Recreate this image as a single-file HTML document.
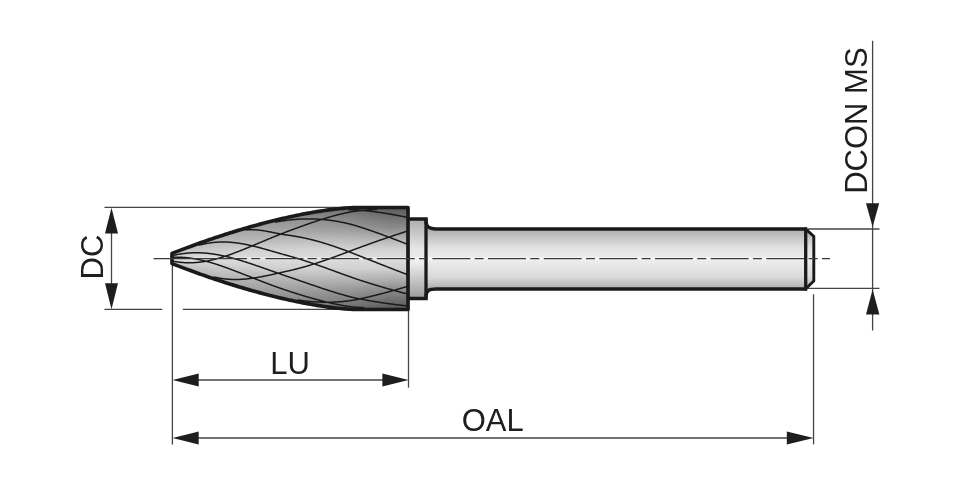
<!DOCTYPE html>
<html><head><meta charset="utf-8">
<style>
html,body{margin:0;padding:0;background:#fff;width:960px;height:485px;overflow:hidden}
svg{display:block;will-change:transform}
text{font-family:"Liberation Sans",sans-serif;fill:#1e1e1e}
</style></head><body>
<svg width="960" height="485" viewBox="0 0 960 485">
<defs>
<linearGradient id="gh" x1="0" y1="207.5" x2="0" y2="309.5" gradientUnits="userSpaceOnUse">
<stop offset="0" stop-color="#5a5a5a"/>
<stop offset="0.2" stop-color="#888"/>
<stop offset="0.5" stop-color="#dcdcdc"/>
<stop offset="0.8" stop-color="#8a8a8a"/>
<stop offset="1" stop-color="#555"/>
</linearGradient>
<linearGradient id="gs" x1="0" y1="229" x2="0" y2="289" gradientUnits="userSpaceOnUse">
<stop offset="0" stop-color="#acacac"/>
<stop offset="0.3" stop-color="#e0e0e0"/>
<stop offset="0.5" stop-color="#eeeeee"/>
<stop offset="0.8" stop-color="#dadada"/>
<stop offset="1" stop-color="#acacac"/>
</linearGradient>
<linearGradient id="gn" x1="0" y1="219" x2="0" y2="298" gradientUnits="userSpaceOnUse">
<stop offset="0" stop-color="#acacac"/>
<stop offset="0.38" stop-color="#e6e6e6"/>
<stop offset="0.55" stop-color="#eeeeee"/>
<stop offset="1" stop-color="#9c9c9c"/>
</linearGradient>
<linearGradient id="s0" x1="0" y1="0" x2="0" y2="1"><stop offset="0" stop-color="#c7c7c7"/><stop offset="0.1" stop-color="#cbcbcb"/><stop offset="0.2" stop-color="#cecece"/><stop offset="0.3" stop-color="#d3d3d3"/><stop offset="0.4" stop-color="#d7d7d7"/><stop offset="0.5" stop-color="#d9d9d9"/><stop offset="0.6" stop-color="#d7d7d7"/><stop offset="0.7" stop-color="#d3d3d3"/><stop offset="0.8" stop-color="#cecece"/><stop offset="0.9" stop-color="#cacaca"/><stop offset="1" stop-color="#c7c7c7"/></linearGradient><linearGradient id="s1" x1="0" y1="0" x2="0" y2="1"><stop offset="0" stop-color="#c5c5c5"/><stop offset="0.1" stop-color="#c9c9c9"/><stop offset="0.2" stop-color="#cdcdcd"/><stop offset="0.3" stop-color="#d2d2d2"/><stop offset="0.4" stop-color="#d7d7d7"/><stop offset="0.5" stop-color="#d9d9d9"/><stop offset="0.6" stop-color="#d7d7d7"/><stop offset="0.7" stop-color="#d2d2d2"/><stop offset="0.8" stop-color="#cdcdcd"/><stop offset="0.9" stop-color="#c9c9c9"/><stop offset="1" stop-color="#c5c5c5"/></linearGradient><linearGradient id="s2" x1="0" y1="0" x2="0" y2="1"><stop offset="0" stop-color="#c4c4c4"/><stop offset="0.1" stop-color="#c8c8c8"/><stop offset="0.2" stop-color="#cccccc"/><stop offset="0.3" stop-color="#d2d2d2"/><stop offset="0.4" stop-color="#d7d7d7"/><stop offset="0.5" stop-color="#d9d9d9"/><stop offset="0.6" stop-color="#d7d7d7"/><stop offset="0.7" stop-color="#d2d2d2"/><stop offset="0.8" stop-color="#cccccc"/><stop offset="0.9" stop-color="#c8c8c8"/><stop offset="1" stop-color="#c4c4c4"/></linearGradient><linearGradient id="s3" x1="0" y1="0" x2="0" y2="1"><stop offset="0" stop-color="#c2c2c2"/><stop offset="0.1" stop-color="#c7c7c7"/><stop offset="0.2" stop-color="#cbcbcb"/><stop offset="0.3" stop-color="#d1d1d1"/><stop offset="0.4" stop-color="#d7d7d7"/><stop offset="0.5" stop-color="#d9d9d9"/><stop offset="0.6" stop-color="#d7d7d7"/><stop offset="0.7" stop-color="#d1d1d1"/><stop offset="0.8" stop-color="#cbcbcb"/><stop offset="0.9" stop-color="#c7c7c7"/><stop offset="1" stop-color="#c2c2c2"/></linearGradient><linearGradient id="s4" x1="0" y1="0" x2="0" y2="1"><stop offset="0" stop-color="#c1c1c1"/><stop offset="0.1" stop-color="#c6c6c6"/><stop offset="0.2" stop-color="#cacaca"/><stop offset="0.3" stop-color="#d1d1d1"/><stop offset="0.4" stop-color="#d7d7d7"/><stop offset="0.5" stop-color="#d9d9d9"/><stop offset="0.6" stop-color="#d7d7d7"/><stop offset="0.7" stop-color="#d1d1d1"/><stop offset="0.8" stop-color="#cbcbcb"/><stop offset="0.9" stop-color="#c5c5c5"/><stop offset="1" stop-color="#c1c1c1"/></linearGradient><linearGradient id="s5" x1="0" y1="0" x2="0" y2="1"><stop offset="0" stop-color="#bfbfbf"/><stop offset="0.1" stop-color="#c5c5c5"/><stop offset="0.2" stop-color="#c9c9c9"/><stop offset="0.3" stop-color="#d0d0d0"/><stop offset="0.4" stop-color="#d6d6d6"/><stop offset="0.5" stop-color="#d9d9d9"/><stop offset="0.6" stop-color="#d6d6d6"/><stop offset="0.7" stop-color="#d0d0d0"/><stop offset="0.8" stop-color="#cacaca"/><stop offset="0.9" stop-color="#c4c4c4"/><stop offset="1" stop-color="#bfbfbf"/></linearGradient><linearGradient id="s6" x1="0" y1="0" x2="0" y2="1"><stop offset="0" stop-color="#bebebe"/><stop offset="0.1" stop-color="#c3c3c3"/><stop offset="0.2" stop-color="#c8c8c8"/><stop offset="0.3" stop-color="#d0d0d0"/><stop offset="0.4" stop-color="#d6d6d6"/><stop offset="0.5" stop-color="#d9d9d9"/><stop offset="0.6" stop-color="#d6d6d6"/><stop offset="0.7" stop-color="#d0d0d0"/><stop offset="0.8" stop-color="#c9c9c9"/><stop offset="0.9" stop-color="#c3c3c3"/><stop offset="1" stop-color="#bebebe"/></linearGradient><linearGradient id="s7" x1="0" y1="0" x2="0" y2="1"><stop offset="0" stop-color="#bcbcbc"/><stop offset="0.1" stop-color="#c2c2c2"/><stop offset="0.2" stop-color="#c7c7c7"/><stop offset="0.3" stop-color="#cfcfcf"/><stop offset="0.4" stop-color="#d6d6d6"/><stop offset="0.5" stop-color="#d9d9d9"/><stop offset="0.6" stop-color="#d6d6d6"/><stop offset="0.7" stop-color="#cfcfcf"/><stop offset="0.8" stop-color="#c8c8c8"/><stop offset="0.9" stop-color="#c2c2c2"/><stop offset="1" stop-color="#bcbcbc"/></linearGradient><linearGradient id="s8" x1="0" y1="0" x2="0" y2="1"><stop offset="0" stop-color="#bbbbbb"/><stop offset="0.1" stop-color="#c1c1c1"/><stop offset="0.2" stop-color="#c7c7c7"/><stop offset="0.3" stop-color="#cfcfcf"/><stop offset="0.4" stop-color="#d6d6d6"/><stop offset="0.5" stop-color="#d9d9d9"/><stop offset="0.6" stop-color="#d6d6d6"/><stop offset="0.7" stop-color="#cfcfcf"/><stop offset="0.8" stop-color="#c7c7c7"/><stop offset="0.9" stop-color="#c1c1c1"/><stop offset="1" stop-color="#bbbbbb"/></linearGradient><linearGradient id="s9" x1="0" y1="0" x2="0" y2="1"><stop offset="0" stop-color="#b9b9b9"/><stop offset="0.1" stop-color="#c0c0c0"/><stop offset="0.2" stop-color="#c6c6c6"/><stop offset="0.3" stop-color="#cecece"/><stop offset="0.4" stop-color="#d6d6d6"/><stop offset="0.5" stop-color="#d9d9d9"/><stop offset="0.6" stop-color="#d6d6d6"/><stop offset="0.7" stop-color="#cecece"/><stop offset="0.8" stop-color="#c6c6c6"/><stop offset="0.9" stop-color="#bfbfbf"/><stop offset="1" stop-color="#b9b9b9"/></linearGradient><linearGradient id="s10" x1="0" y1="0" x2="0" y2="1"><stop offset="0" stop-color="#b7b7b7"/><stop offset="0.1" stop-color="#bfbfbf"/><stop offset="0.2" stop-color="#c5c5c5"/><stop offset="0.3" stop-color="#cecece"/><stop offset="0.4" stop-color="#d6d6d6"/><stop offset="0.5" stop-color="#dadada"/><stop offset="0.6" stop-color="#d6d6d6"/><stop offset="0.7" stop-color="#cecece"/><stop offset="0.8" stop-color="#c5c5c5"/><stop offset="0.9" stop-color="#bebebe"/><stop offset="1" stop-color="#b7b7b7"/></linearGradient><linearGradient id="s11" x1="0" y1="0" x2="0" y2="1"><stop offset="0" stop-color="#b6b6b6"/><stop offset="0.1" stop-color="#bdbdbd"/><stop offset="0.2" stop-color="#c4c4c4"/><stop offset="0.3" stop-color="#cdcdcd"/><stop offset="0.4" stop-color="#d6d6d6"/><stop offset="0.5" stop-color="#dadada"/><stop offset="0.6" stop-color="#d6d6d6"/><stop offset="0.7" stop-color="#cdcdcd"/><stop offset="0.8" stop-color="#c4c4c4"/><stop offset="0.9" stop-color="#bdbdbd"/><stop offset="1" stop-color="#b6b6b6"/></linearGradient><linearGradient id="s12" x1="0" y1="0" x2="0" y2="1"><stop offset="0" stop-color="#b4b4b4"/><stop offset="0.1" stop-color="#bcbcbc"/><stop offset="0.2" stop-color="#c3c3c3"/><stop offset="0.3" stop-color="#cdcdcd"/><stop offset="0.4" stop-color="#d6d6d6"/><stop offset="0.5" stop-color="#dadada"/><stop offset="0.6" stop-color="#d6d6d6"/><stop offset="0.7" stop-color="#cdcdcd"/><stop offset="0.8" stop-color="#c3c3c3"/><stop offset="0.9" stop-color="#bcbcbc"/><stop offset="1" stop-color="#b4b4b4"/></linearGradient><linearGradient id="s13" x1="0" y1="0" x2="0" y2="1"><stop offset="0" stop-color="#b3b3b3"/><stop offset="0.1" stop-color="#bbbbbb"/><stop offset="0.2" stop-color="#c2c2c2"/><stop offset="0.3" stop-color="#cccccc"/><stop offset="0.4" stop-color="#d6d6d6"/><stop offset="0.5" stop-color="#dadada"/><stop offset="0.6" stop-color="#d6d6d6"/><stop offset="0.7" stop-color="#cccccc"/><stop offset="0.8" stop-color="#c3c3c3"/><stop offset="0.9" stop-color="#bababa"/><stop offset="1" stop-color="#b3b3b3"/></linearGradient><linearGradient id="s14" x1="0" y1="0" x2="0" y2="1"><stop offset="0" stop-color="#b1b1b1"/><stop offset="0.1" stop-color="#bababa"/><stop offset="0.2" stop-color="#c1c1c1"/><stop offset="0.3" stop-color="#cccccc"/><stop offset="0.4" stop-color="#d6d6d6"/><stop offset="0.5" stop-color="#dadada"/><stop offset="0.6" stop-color="#d6d6d6"/><stop offset="0.7" stop-color="#cccccc"/><stop offset="0.8" stop-color="#c2c2c2"/><stop offset="0.9" stop-color="#b9b9b9"/><stop offset="1" stop-color="#b1b1b1"/></linearGradient><linearGradient id="s15" x1="0" y1="0" x2="0" y2="1"><stop offset="0" stop-color="#b0b0b0"/><stop offset="0.1" stop-color="#b9b9b9"/><stop offset="0.2" stop-color="#c0c0c0"/><stop offset="0.3" stop-color="#cbcbcb"/><stop offset="0.4" stop-color="#d5d5d5"/><stop offset="0.5" stop-color="#dadada"/><stop offset="0.6" stop-color="#d5d5d5"/><stop offset="0.7" stop-color="#cbcbcb"/><stop offset="0.8" stop-color="#c1c1c1"/><stop offset="0.9" stop-color="#b8b8b8"/><stop offset="1" stop-color="#b0b0b0"/></linearGradient><linearGradient id="s16" x1="0" y1="0" x2="0" y2="1"><stop offset="0" stop-color="#aeaeae"/><stop offset="0.1" stop-color="#b7b7b7"/><stop offset="0.2" stop-color="#bfbfbf"/><stop offset="0.3" stop-color="#cbcbcb"/><stop offset="0.4" stop-color="#d5d5d5"/><stop offset="0.5" stop-color="#dadada"/><stop offset="0.6" stop-color="#d5d5d5"/><stop offset="0.7" stop-color="#cbcbcb"/><stop offset="0.8" stop-color="#c0c0c0"/><stop offset="0.9" stop-color="#b7b7b7"/><stop offset="1" stop-color="#aeaeae"/></linearGradient><linearGradient id="s17" x1="0" y1="0" x2="0" y2="1"><stop offset="0" stop-color="#adadad"/><stop offset="0.1" stop-color="#b6b6b6"/><stop offset="0.2" stop-color="#bebebe"/><stop offset="0.3" stop-color="#cacaca"/><stop offset="0.4" stop-color="#d5d5d5"/><stop offset="0.5" stop-color="#dadada"/><stop offset="0.6" stop-color="#d5d5d5"/><stop offset="0.7" stop-color="#cacaca"/><stop offset="0.8" stop-color="#bfbfbf"/><stop offset="0.9" stop-color="#b6b6b6"/><stop offset="1" stop-color="#adadad"/></linearGradient><linearGradient id="s18" x1="0" y1="0" x2="0" y2="1"><stop offset="0" stop-color="#ababab"/><stop offset="0.1" stop-color="#b5b5b5"/><stop offset="0.2" stop-color="#bdbdbd"/><stop offset="0.3" stop-color="#cacaca"/><stop offset="0.4" stop-color="#d5d5d5"/><stop offset="0.5" stop-color="#dadada"/><stop offset="0.6" stop-color="#d5d5d5"/><stop offset="0.7" stop-color="#cacaca"/><stop offset="0.8" stop-color="#bebebe"/><stop offset="0.9" stop-color="#b4b4b4"/><stop offset="1" stop-color="#ababab"/></linearGradient><linearGradient id="s19" x1="0" y1="0" x2="0" y2="1"><stop offset="0" stop-color="#aaaaaa"/><stop offset="0.1" stop-color="#b4b4b4"/><stop offset="0.2" stop-color="#bcbcbc"/><stop offset="0.3" stop-color="#cacaca"/><stop offset="0.4" stop-color="#d5d5d5"/><stop offset="0.5" stop-color="#dadada"/><stop offset="0.6" stop-color="#d5d5d5"/><stop offset="0.7" stop-color="#cacaca"/><stop offset="0.8" stop-color="#bdbdbd"/><stop offset="0.9" stop-color="#b3b3b3"/><stop offset="1" stop-color="#aaaaaa"/></linearGradient><linearGradient id="s20" x1="0" y1="0" x2="0" y2="1"><stop offset="0" stop-color="#a8a8a8"/><stop offset="0.1" stop-color="#b3b3b3"/><stop offset="0.2" stop-color="#bcbcbc"/><stop offset="0.3" stop-color="#c9c9c9"/><stop offset="0.4" stop-color="#d5d5d5"/><stop offset="0.5" stop-color="#dadada"/><stop offset="0.6" stop-color="#d5d5d5"/><stop offset="0.7" stop-color="#c9c9c9"/><stop offset="0.8" stop-color="#bcbcbc"/><stop offset="0.9" stop-color="#b2b2b2"/><stop offset="1" stop-color="#a8a8a8"/></linearGradient><linearGradient id="s21" x1="0" y1="0" x2="0" y2="1"><stop offset="0" stop-color="#a7a7a7"/><stop offset="0.1" stop-color="#b1b1b1"/><stop offset="0.2" stop-color="#bbbbbb"/><stop offset="0.3" stop-color="#c9c9c9"/><stop offset="0.4" stop-color="#d5d5d5"/><stop offset="0.5" stop-color="#dadada"/><stop offset="0.6" stop-color="#d5d5d5"/><stop offset="0.7" stop-color="#c9c9c9"/><stop offset="0.8" stop-color="#bbbbbb"/><stop offset="0.9" stop-color="#b1b1b1"/><stop offset="1" stop-color="#a7a7a7"/></linearGradient><linearGradient id="s22" x1="0" y1="0" x2="0" y2="1"><stop offset="0" stop-color="#a5a5a5"/><stop offset="0.1" stop-color="#b0b0b0"/><stop offset="0.2" stop-color="#bababa"/><stop offset="0.3" stop-color="#c8c8c8"/><stop offset="0.4" stop-color="#d5d5d5"/><stop offset="0.5" stop-color="#dadada"/><stop offset="0.6" stop-color="#d5d5d5"/><stop offset="0.7" stop-color="#c8c8c8"/><stop offset="0.8" stop-color="#bbbbbb"/><stop offset="0.9" stop-color="#afafaf"/><stop offset="1" stop-color="#a5a5a5"/></linearGradient><linearGradient id="s23" x1="0" y1="0" x2="0" y2="1"><stop offset="0" stop-color="#a4a4a4"/><stop offset="0.1" stop-color="#afafaf"/><stop offset="0.2" stop-color="#b9b9b9"/><stop offset="0.3" stop-color="#c8c8c8"/><stop offset="0.4" stop-color="#d5d5d5"/><stop offset="0.5" stop-color="#dadada"/><stop offset="0.6" stop-color="#d5d5d5"/><stop offset="0.7" stop-color="#c8c8c8"/><stop offset="0.8" stop-color="#bababa"/><stop offset="0.9" stop-color="#aeaeae"/><stop offset="1" stop-color="#a4a4a4"/></linearGradient><linearGradient id="s24" x1="0" y1="0" x2="0" y2="1"><stop offset="0" stop-color="#a2a2a2"/><stop offset="0.1" stop-color="#aeaeae"/><stop offset="0.2" stop-color="#b8b8b8"/><stop offset="0.3" stop-color="#c7c7c7"/><stop offset="0.4" stop-color="#d5d5d5"/><stop offset="0.5" stop-color="#dbdbdb"/><stop offset="0.6" stop-color="#d5d5d5"/><stop offset="0.7" stop-color="#c7c7c7"/><stop offset="0.8" stop-color="#b9b9b9"/><stop offset="0.9" stop-color="#adadad"/><stop offset="1" stop-color="#a2a2a2"/></linearGradient><linearGradient id="s25" x1="0" y1="0" x2="0" y2="1"><stop offset="0" stop-color="#a0a0a0"/><stop offset="0.1" stop-color="#adadad"/><stop offset="0.2" stop-color="#b7b7b7"/><stop offset="0.3" stop-color="#c7c7c7"/><stop offset="0.4" stop-color="#d5d5d5"/><stop offset="0.5" stop-color="#dbdbdb"/><stop offset="0.6" stop-color="#d5d5d5"/><stop offset="0.7" stop-color="#c7c7c7"/><stop offset="0.8" stop-color="#b8b8b8"/><stop offset="0.9" stop-color="#acacac"/><stop offset="1" stop-color="#a0a0a0"/></linearGradient><linearGradient id="s26" x1="0" y1="0" x2="0" y2="1"><stop offset="0" stop-color="#9f9f9f"/><stop offset="0.1" stop-color="#ababab"/><stop offset="0.2" stop-color="#b6b6b6"/><stop offset="0.3" stop-color="#c6c6c6"/><stop offset="0.4" stop-color="#d4d4d4"/><stop offset="0.5" stop-color="#dbdbdb"/><stop offset="0.6" stop-color="#d4d4d4"/><stop offset="0.7" stop-color="#c6c6c6"/><stop offset="0.8" stop-color="#b7b7b7"/><stop offset="0.9" stop-color="#ababab"/><stop offset="1" stop-color="#9f9f9f"/></linearGradient><linearGradient id="s27" x1="0" y1="0" x2="0" y2="1"><stop offset="0" stop-color="#9d9d9d"/><stop offset="0.1" stop-color="#aaaaaa"/><stop offset="0.2" stop-color="#b5b5b5"/><stop offset="0.3" stop-color="#c6c6c6"/><stop offset="0.4" stop-color="#d4d4d4"/><stop offset="0.5" stop-color="#dbdbdb"/><stop offset="0.6" stop-color="#d4d4d4"/><stop offset="0.7" stop-color="#c6c6c6"/><stop offset="0.8" stop-color="#b6b6b6"/><stop offset="0.9" stop-color="#a9a9a9"/><stop offset="1" stop-color="#9d9d9d"/></linearGradient><linearGradient id="s28" x1="0" y1="0" x2="0" y2="1"><stop offset="0" stop-color="#9c9c9c"/><stop offset="0.1" stop-color="#a9a9a9"/><stop offset="0.2" stop-color="#b4b4b4"/><stop offset="0.3" stop-color="#c5c5c5"/><stop offset="0.4" stop-color="#d4d4d4"/><stop offset="0.5" stop-color="#dbdbdb"/><stop offset="0.6" stop-color="#d4d4d4"/><stop offset="0.7" stop-color="#c5c5c5"/><stop offset="0.8" stop-color="#b5b5b5"/><stop offset="0.9" stop-color="#a8a8a8"/><stop offset="1" stop-color="#9c9c9c"/></linearGradient><linearGradient id="s29" x1="0" y1="0" x2="0" y2="1"><stop offset="0" stop-color="#9a9a9a"/><stop offset="0.1" stop-color="#a8a8a8"/><stop offset="0.2" stop-color="#b3b3b3"/><stop offset="0.3" stop-color="#c5c5c5"/><stop offset="0.4" stop-color="#d4d4d4"/><stop offset="0.5" stop-color="#dbdbdb"/><stop offset="0.6" stop-color="#d4d4d4"/><stop offset="0.7" stop-color="#c5c5c5"/><stop offset="0.8" stop-color="#b4b4b4"/><stop offset="0.9" stop-color="#a7a7a7"/><stop offset="1" stop-color="#9a9a9a"/></linearGradient><linearGradient id="s30" x1="0" y1="0" x2="0" y2="1"><stop offset="0" stop-color="#999999"/><stop offset="0.1" stop-color="#a7a7a7"/><stop offset="0.2" stop-color="#b2b2b2"/><stop offset="0.3" stop-color="#c4c4c4"/><stop offset="0.4" stop-color="#d4d4d4"/><stop offset="0.5" stop-color="#dbdbdb"/><stop offset="0.6" stop-color="#d4d4d4"/><stop offset="0.7" stop-color="#c4c4c4"/><stop offset="0.8" stop-color="#b3b3b3"/><stop offset="0.9" stop-color="#a6a6a6"/><stop offset="1" stop-color="#999999"/></linearGradient><linearGradient id="s31" x1="0" y1="0" x2="0" y2="1"><stop offset="0" stop-color="#979797"/><stop offset="0.1" stop-color="#a5a5a5"/><stop offset="0.2" stop-color="#b2b2b2"/><stop offset="0.3" stop-color="#c4c4c4"/><stop offset="0.4" stop-color="#d4d4d4"/><stop offset="0.5" stop-color="#dbdbdb"/><stop offset="0.6" stop-color="#d4d4d4"/><stop offset="0.7" stop-color="#c4c4c4"/><stop offset="0.8" stop-color="#b3b3b3"/><stop offset="0.9" stop-color="#a4a4a4"/><stop offset="1" stop-color="#979797"/></linearGradient><linearGradient id="s32" x1="0" y1="0" x2="0" y2="1"><stop offset="0" stop-color="#969696"/><stop offset="0.1" stop-color="#a4a4a4"/><stop offset="0.2" stop-color="#b1b1b1"/><stop offset="0.3" stop-color="#c3c3c3"/><stop offset="0.4" stop-color="#d4d4d4"/><stop offset="0.5" stop-color="#dbdbdb"/><stop offset="0.6" stop-color="#d4d4d4"/><stop offset="0.7" stop-color="#c3c3c3"/><stop offset="0.8" stop-color="#b2b2b2"/><stop offset="0.9" stop-color="#a3a3a3"/><stop offset="1" stop-color="#969696"/></linearGradient><linearGradient id="s33" x1="0" y1="0" x2="0" y2="1"><stop offset="0" stop-color="#949494"/><stop offset="0.1" stop-color="#a3a3a3"/><stop offset="0.2" stop-color="#b0b0b0"/><stop offset="0.3" stop-color="#c3c3c3"/><stop offset="0.4" stop-color="#d4d4d4"/><stop offset="0.5" stop-color="#dbdbdb"/><stop offset="0.6" stop-color="#d4d4d4"/><stop offset="0.7" stop-color="#c3c3c3"/><stop offset="0.8" stop-color="#b1b1b1"/><stop offset="0.9" stop-color="#a2a2a2"/><stop offset="1" stop-color="#949494"/></linearGradient><linearGradient id="s34" x1="0" y1="0" x2="0" y2="1"><stop offset="0" stop-color="#939393"/><stop offset="0.1" stop-color="#a2a2a2"/><stop offset="0.2" stop-color="#afafaf"/><stop offset="0.3" stop-color="#c2c2c2"/><stop offset="0.4" stop-color="#d4d4d4"/><stop offset="0.5" stop-color="#dbdbdb"/><stop offset="0.6" stop-color="#d4d4d4"/><stop offset="0.7" stop-color="#c2c2c2"/><stop offset="0.8" stop-color="#b0b0b0"/><stop offset="0.9" stop-color="#a1a1a1"/><stop offset="1" stop-color="#939393"/></linearGradient><linearGradient id="s35" x1="0" y1="0" x2="0" y2="1"><stop offset="0" stop-color="#919191"/><stop offset="0.1" stop-color="#a1a1a1"/><stop offset="0.2" stop-color="#aeaeae"/><stop offset="0.3" stop-color="#c2c2c2"/><stop offset="0.4" stop-color="#d4d4d4"/><stop offset="0.5" stop-color="#dbdbdb"/><stop offset="0.6" stop-color="#d4d4d4"/><stop offset="0.7" stop-color="#c2c2c2"/><stop offset="0.8" stop-color="#afafaf"/><stop offset="0.9" stop-color="#9f9f9f"/><stop offset="1" stop-color="#919191"/></linearGradient><linearGradient id="s36" x1="0" y1="0" x2="0" y2="1"><stop offset="0" stop-color="#909090"/><stop offset="0.1" stop-color="#9f9f9f"/><stop offset="0.2" stop-color="#adadad"/><stop offset="0.3" stop-color="#c1c1c1"/><stop offset="0.4" stop-color="#d3d3d3"/><stop offset="0.5" stop-color="#dbdbdb"/><stop offset="0.6" stop-color="#d3d3d3"/><stop offset="0.7" stop-color="#c1c1c1"/><stop offset="0.8" stop-color="#aeaeae"/><stop offset="0.9" stop-color="#9e9e9e"/><stop offset="1" stop-color="#909090"/></linearGradient><linearGradient id="s37" x1="0" y1="0" x2="0" y2="1"><stop offset="0" stop-color="#8e8e8e"/><stop offset="0.1" stop-color="#9e9e9e"/><stop offset="0.2" stop-color="#acacac"/><stop offset="0.3" stop-color="#c1c1c1"/><stop offset="0.4" stop-color="#d3d3d3"/><stop offset="0.5" stop-color="#dbdbdb"/><stop offset="0.6" stop-color="#d3d3d3"/><stop offset="0.7" stop-color="#c1c1c1"/><stop offset="0.8" stop-color="#adadad"/><stop offset="0.9" stop-color="#9d9d9d"/><stop offset="1" stop-color="#8e8e8e"/></linearGradient><linearGradient id="s38" x1="0" y1="0" x2="0" y2="1"><stop offset="0" stop-color="#8c8c8c"/><stop offset="0.1" stop-color="#9d9d9d"/><stop offset="0.2" stop-color="#ababab"/><stop offset="0.3" stop-color="#c0c0c0"/><stop offset="0.4" stop-color="#d3d3d3"/><stop offset="0.5" stop-color="#dcdcdc"/><stop offset="0.6" stop-color="#d3d3d3"/><stop offset="0.7" stop-color="#c0c0c0"/><stop offset="0.8" stop-color="#acacac"/><stop offset="0.9" stop-color="#9c9c9c"/><stop offset="1" stop-color="#8c8c8c"/></linearGradient><linearGradient id="s39" x1="0" y1="0" x2="0" y2="1"><stop offset="0" stop-color="#8b8b8b"/><stop offset="0.1" stop-color="#9c9c9c"/><stop offset="0.2" stop-color="#aaaaaa"/><stop offset="0.3" stop-color="#c0c0c0"/><stop offset="0.4" stop-color="#d3d3d3"/><stop offset="0.5" stop-color="#dcdcdc"/><stop offset="0.6" stop-color="#d3d3d3"/><stop offset="0.7" stop-color="#c0c0c0"/><stop offset="0.8" stop-color="#ababab"/><stop offset="0.9" stop-color="#9b9b9b"/><stop offset="1" stop-color="#8b8b8b"/></linearGradient><linearGradient id="s40" x1="0" y1="0" x2="0" y2="1"><stop offset="0" stop-color="#898989"/><stop offset="0.1" stop-color="#9b9b9b"/><stop offset="0.2" stop-color="#a9a9a9"/><stop offset="0.3" stop-color="#bfbfbf"/><stop offset="0.4" stop-color="#d3d3d3"/><stop offset="0.5" stop-color="#dcdcdc"/><stop offset="0.6" stop-color="#d3d3d3"/><stop offset="0.7" stop-color="#bfbfbf"/><stop offset="0.8" stop-color="#ababab"/><stop offset="0.9" stop-color="#999999"/><stop offset="1" stop-color="#898989"/></linearGradient><linearGradient id="s41" x1="0" y1="0" x2="0" y2="1"><stop offset="0" stop-color="#888888"/><stop offset="0.1" stop-color="#999999"/><stop offset="0.2" stop-color="#a8a8a8"/><stop offset="0.3" stop-color="#bfbfbf"/><stop offset="0.4" stop-color="#d3d3d3"/><stop offset="0.5" stop-color="#dcdcdc"/><stop offset="0.6" stop-color="#d3d3d3"/><stop offset="0.7" stop-color="#bfbfbf"/><stop offset="0.8" stop-color="#aaaaaa"/><stop offset="0.9" stop-color="#989898"/><stop offset="1" stop-color="#888888"/></linearGradient><linearGradient id="s42" x1="0" y1="0" x2="0" y2="1"><stop offset="0" stop-color="#868686"/><stop offset="0.1" stop-color="#989898"/><stop offset="0.2" stop-color="#a8a8a8"/><stop offset="0.3" stop-color="#bebebe"/><stop offset="0.4" stop-color="#d3d3d3"/><stop offset="0.5" stop-color="#dcdcdc"/><stop offset="0.6" stop-color="#d3d3d3"/><stop offset="0.7" stop-color="#bebebe"/><stop offset="0.8" stop-color="#a9a9a9"/><stop offset="0.9" stop-color="#979797"/><stop offset="1" stop-color="#868686"/></linearGradient><linearGradient id="s43" x1="0" y1="0" x2="0" y2="1"><stop offset="0" stop-color="#858585"/><stop offset="0.1" stop-color="#979797"/><stop offset="0.2" stop-color="#a7a7a7"/><stop offset="0.3" stop-color="#bebebe"/><stop offset="0.4" stop-color="#d3d3d3"/><stop offset="0.5" stop-color="#dcdcdc"/><stop offset="0.6" stop-color="#d3d3d3"/><stop offset="0.7" stop-color="#bebebe"/><stop offset="0.8" stop-color="#a8a8a8"/><stop offset="0.9" stop-color="#969696"/><stop offset="1" stop-color="#858585"/></linearGradient><linearGradient id="s44" x1="0" y1="0" x2="0" y2="1"><stop offset="0" stop-color="#838383"/><stop offset="0.1" stop-color="#969696"/><stop offset="0.2" stop-color="#a6a6a6"/><stop offset="0.3" stop-color="#bebebe"/><stop offset="0.4" stop-color="#d3d3d3"/><stop offset="0.5" stop-color="#dcdcdc"/><stop offset="0.6" stop-color="#d3d3d3"/><stop offset="0.7" stop-color="#bebebe"/><stop offset="0.8" stop-color="#a7a7a7"/><stop offset="0.9" stop-color="#949494"/><stop offset="1" stop-color="#838383"/></linearGradient><linearGradient id="s45" x1="0" y1="0" x2="0" y2="1"><stop offset="0" stop-color="#828282"/><stop offset="0.1" stop-color="#959595"/><stop offset="0.2" stop-color="#a5a5a5"/><stop offset="0.3" stop-color="#bdbdbd"/><stop offset="0.4" stop-color="#d3d3d3"/><stop offset="0.5" stop-color="#dcdcdc"/><stop offset="0.6" stop-color="#d3d3d3"/><stop offset="0.7" stop-color="#bdbdbd"/><stop offset="0.8" stop-color="#a6a6a6"/><stop offset="0.9" stop-color="#939393"/><stop offset="1" stop-color="#828282"/></linearGradient><linearGradient id="s46" x1="0" y1="0" x2="0" y2="1"><stop offset="0" stop-color="#808080"/><stop offset="0.1" stop-color="#939393"/><stop offset="0.2" stop-color="#a4a4a4"/><stop offset="0.3" stop-color="#bdbdbd"/><stop offset="0.4" stop-color="#d3d3d3"/><stop offset="0.5" stop-color="#dcdcdc"/><stop offset="0.6" stop-color="#d3d3d3"/><stop offset="0.7" stop-color="#bdbdbd"/><stop offset="0.8" stop-color="#a5a5a5"/><stop offset="0.9" stop-color="#929292"/><stop offset="1" stop-color="#808080"/></linearGradient><linearGradient id="s47" x1="0" y1="0" x2="0" y2="1"><stop offset="0" stop-color="#7f7f7f"/><stop offset="0.1" stop-color="#929292"/><stop offset="0.2" stop-color="#a3a3a3"/><stop offset="0.3" stop-color="#bcbcbc"/><stop offset="0.4" stop-color="#d2d2d2"/><stop offset="0.5" stop-color="#dcdcdc"/><stop offset="0.6" stop-color="#d2d2d2"/><stop offset="0.7" stop-color="#bcbcbc"/><stop offset="0.8" stop-color="#a4a4a4"/><stop offset="0.9" stop-color="#919191"/><stop offset="1" stop-color="#7f7f7f"/></linearGradient><linearGradient id="s48" x1="0" y1="0" x2="0" y2="1"><stop offset="0" stop-color="#7d7d7d"/><stop offset="0.1" stop-color="#919191"/><stop offset="0.2" stop-color="#a2a2a2"/><stop offset="0.3" stop-color="#bcbcbc"/><stop offset="0.4" stop-color="#d2d2d2"/><stop offset="0.5" stop-color="#dcdcdc"/><stop offset="0.6" stop-color="#d2d2d2"/><stop offset="0.7" stop-color="#bcbcbc"/><stop offset="0.8" stop-color="#a3a3a3"/><stop offset="0.9" stop-color="#909090"/><stop offset="1" stop-color="#7d7d7d"/></linearGradient><linearGradient id="s49" x1="0" y1="0" x2="0" y2="1"><stop offset="0" stop-color="#7c7c7c"/><stop offset="0.1" stop-color="#909090"/><stop offset="0.2" stop-color="#a1a1a1"/><stop offset="0.3" stop-color="#bbbbbb"/><stop offset="0.4" stop-color="#d2d2d2"/><stop offset="0.5" stop-color="#dcdcdc"/><stop offset="0.6" stop-color="#d2d2d2"/><stop offset="0.7" stop-color="#bbbbbb"/><stop offset="0.8" stop-color="#a3a3a3"/><stop offset="0.9" stop-color="#8e8e8e"/><stop offset="1" stop-color="#7c7c7c"/></linearGradient><linearGradient id="s50" x1="0" y1="0" x2="0" y2="1"><stop offset="0" stop-color="#7a7a7a"/><stop offset="0.1" stop-color="#8f8f8f"/><stop offset="0.2" stop-color="#a0a0a0"/><stop offset="0.3" stop-color="#bbbbbb"/><stop offset="0.4" stop-color="#d2d2d2"/><stop offset="0.5" stop-color="#dcdcdc"/><stop offset="0.6" stop-color="#d2d2d2"/><stop offset="0.7" stop-color="#bbbbbb"/><stop offset="0.8" stop-color="#a2a2a2"/><stop offset="0.9" stop-color="#8d8d8d"/><stop offset="1" stop-color="#7a7a7a"/></linearGradient><linearGradient id="s51" x1="0" y1="0" x2="0" y2="1"><stop offset="0" stop-color="#797979"/><stop offset="0.1" stop-color="#8d8d8d"/><stop offset="0.2" stop-color="#9f9f9f"/><stop offset="0.3" stop-color="#bababa"/><stop offset="0.4" stop-color="#d2d2d2"/><stop offset="0.5" stop-color="#dcdcdc"/><stop offset="0.6" stop-color="#d2d2d2"/><stop offset="0.7" stop-color="#bababa"/><stop offset="0.8" stop-color="#a1a1a1"/><stop offset="0.9" stop-color="#8c8c8c"/><stop offset="1" stop-color="#797979"/></linearGradient><linearGradient id="s52" x1="0" y1="0" x2="0" y2="1"><stop offset="0" stop-color="#777777"/><stop offset="0.1" stop-color="#8c8c8c"/><stop offset="0.2" stop-color="#9e9e9e"/><stop offset="0.3" stop-color="#bababa"/><stop offset="0.4" stop-color="#d2d2d2"/><stop offset="0.5" stop-color="#dddddd"/><stop offset="0.6" stop-color="#d2d2d2"/><stop offset="0.7" stop-color="#bababa"/><stop offset="0.8" stop-color="#a0a0a0"/><stop offset="0.9" stop-color="#8b8b8b"/><stop offset="1" stop-color="#777777"/></linearGradient><linearGradient id="s53" x1="0" y1="0" x2="0" y2="1"><stop offset="0" stop-color="#757575"/><stop offset="0.1" stop-color="#8b8b8b"/><stop offset="0.2" stop-color="#9d9d9d"/><stop offset="0.3" stop-color="#b9b9b9"/><stop offset="0.4" stop-color="#d2d2d2"/><stop offset="0.5" stop-color="#dddddd"/><stop offset="0.6" stop-color="#d2d2d2"/><stop offset="0.7" stop-color="#b9b9b9"/><stop offset="0.8" stop-color="#9f9f9f"/><stop offset="0.9" stop-color="#898989"/><stop offset="1" stop-color="#757575"/></linearGradient><linearGradient id="s54" x1="0" y1="0" x2="0" y2="1"><stop offset="0" stop-color="#747474"/><stop offset="0.1" stop-color="#8a8a8a"/><stop offset="0.2" stop-color="#9d9d9d"/><stop offset="0.3" stop-color="#b9b9b9"/><stop offset="0.4" stop-color="#d2d2d2"/><stop offset="0.5" stop-color="#dddddd"/><stop offset="0.6" stop-color="#d2d2d2"/><stop offset="0.7" stop-color="#b9b9b9"/><stop offset="0.8" stop-color="#9e9e9e"/><stop offset="0.9" stop-color="#888888"/><stop offset="1" stop-color="#747474"/></linearGradient><linearGradient id="s55" x1="0" y1="0" x2="0" y2="1"><stop offset="0" stop-color="#727272"/><stop offset="0.1" stop-color="#898989"/><stop offset="0.2" stop-color="#9c9c9c"/><stop offset="0.3" stop-color="#b8b8b8"/><stop offset="0.4" stop-color="#d2d2d2"/><stop offset="0.5" stop-color="#dddddd"/><stop offset="0.6" stop-color="#d2d2d2"/><stop offset="0.7" stop-color="#b8b8b8"/><stop offset="0.8" stop-color="#9d9d9d"/><stop offset="0.9" stop-color="#878787"/><stop offset="1" stop-color="#727272"/></linearGradient><linearGradient id="s56" x1="0" y1="0" x2="0" y2="1"><stop offset="0" stop-color="#717171"/><stop offset="0.1" stop-color="#878787"/><stop offset="0.2" stop-color="#9b9b9b"/><stop offset="0.3" stop-color="#b8b8b8"/><stop offset="0.4" stop-color="#d2d2d2"/><stop offset="0.5" stop-color="#dddddd"/><stop offset="0.6" stop-color="#d2d2d2"/><stop offset="0.7" stop-color="#b8b8b8"/><stop offset="0.8" stop-color="#9c9c9c"/><stop offset="0.9" stop-color="#868686"/><stop offset="1" stop-color="#717171"/></linearGradient><linearGradient id="s57" x1="0" y1="0" x2="0" y2="1"><stop offset="0" stop-color="#6f6f6f"/><stop offset="0.1" stop-color="#868686"/><stop offset="0.2" stop-color="#9a9a9a"/><stop offset="0.3" stop-color="#b7b7b7"/><stop offset="0.4" stop-color="#d1d1d1"/><stop offset="0.5" stop-color="#dddddd"/><stop offset="0.6" stop-color="#d1d1d1"/><stop offset="0.7" stop-color="#b7b7b7"/><stop offset="0.8" stop-color="#9b9b9b"/><stop offset="0.9" stop-color="#858585"/><stop offset="1" stop-color="#6f6f6f"/></linearGradient><linearGradient id="s58" x1="0" y1="0" x2="0" y2="1"><stop offset="0" stop-color="#6e6e6e"/><stop offset="0.1" stop-color="#858585"/><stop offset="0.2" stop-color="#999999"/><stop offset="0.3" stop-color="#b7b7b7"/><stop offset="0.4" stop-color="#d1d1d1"/><stop offset="0.5" stop-color="#dddddd"/><stop offset="0.6" stop-color="#d1d1d1"/><stop offset="0.7" stop-color="#b7b7b7"/><stop offset="0.8" stop-color="#9b9b9b"/><stop offset="0.9" stop-color="#838383"/><stop offset="1" stop-color="#6e6e6e"/></linearGradient><linearGradient id="s59" x1="0" y1="0" x2="0" y2="1"><stop offset="0" stop-color="#6c6c6c"/><stop offset="0.1" stop-color="#848484"/><stop offset="0.2" stop-color="#989898"/><stop offset="0.3" stop-color="#b6b6b6"/><stop offset="0.4" stop-color="#d1d1d1"/><stop offset="0.5" stop-color="#dddddd"/><stop offset="0.6" stop-color="#d1d1d1"/><stop offset="0.7" stop-color="#b6b6b6"/><stop offset="0.8" stop-color="#9a9a9a"/><stop offset="0.9" stop-color="#828282"/><stop offset="1" stop-color="#6c6c6c"/></linearGradient><linearGradient id="s60" x1="0" y1="0" x2="0" y2="1"><stop offset="0" stop-color="#6b6b6b"/><stop offset="0.1" stop-color="#838383"/><stop offset="0.2" stop-color="#979797"/><stop offset="0.3" stop-color="#b6b6b6"/><stop offset="0.4" stop-color="#d1d1d1"/><stop offset="0.5" stop-color="#dddddd"/><stop offset="0.6" stop-color="#d1d1d1"/><stop offset="0.7" stop-color="#b6b6b6"/><stop offset="0.8" stop-color="#999999"/><stop offset="0.9" stop-color="#818181"/><stop offset="1" stop-color="#6b6b6b"/></linearGradient><linearGradient id="s61" x1="0" y1="0" x2="0" y2="1"><stop offset="0" stop-color="#696969"/><stop offset="0.1" stop-color="#818181"/><stop offset="0.2" stop-color="#969696"/><stop offset="0.3" stop-color="#b5b5b5"/><stop offset="0.4" stop-color="#d1d1d1"/><stop offset="0.5" stop-color="#dddddd"/><stop offset="0.6" stop-color="#d1d1d1"/><stop offset="0.7" stop-color="#b5b5b5"/><stop offset="0.8" stop-color="#989898"/><stop offset="0.9" stop-color="#808080"/><stop offset="1" stop-color="#696969"/></linearGradient><linearGradient id="s62" x1="0" y1="0" x2="0" y2="1"><stop offset="0" stop-color="#686868"/><stop offset="0.1" stop-color="#808080"/><stop offset="0.2" stop-color="#959595"/><stop offset="0.3" stop-color="#b5b5b5"/><stop offset="0.4" stop-color="#d1d1d1"/><stop offset="0.5" stop-color="#dddddd"/><stop offset="0.6" stop-color="#d1d1d1"/><stop offset="0.7" stop-color="#b5b5b5"/><stop offset="0.8" stop-color="#979797"/><stop offset="0.9" stop-color="#7e7e7e"/><stop offset="1" stop-color="#686868"/></linearGradient><linearGradient id="s63" x1="0" y1="0" x2="0" y2="1"><stop offset="0" stop-color="#666666"/><stop offset="0.1" stop-color="#7f7f7f"/><stop offset="0.2" stop-color="#949494"/><stop offset="0.3" stop-color="#b4b4b4"/><stop offset="0.4" stop-color="#d1d1d1"/><stop offset="0.5" stop-color="#dddddd"/><stop offset="0.6" stop-color="#d1d1d1"/><stop offset="0.7" stop-color="#b4b4b4"/><stop offset="0.8" stop-color="#969696"/><stop offset="0.9" stop-color="#7d7d7d"/><stop offset="1" stop-color="#666666"/></linearGradient><linearGradient id="s64" x1="0" y1="0" x2="0" y2="1"><stop offset="0" stop-color="#656565"/><stop offset="0.1" stop-color="#7e7e7e"/><stop offset="0.2" stop-color="#939393"/><stop offset="0.3" stop-color="#b4b4b4"/><stop offset="0.4" stop-color="#d1d1d1"/><stop offset="0.5" stop-color="#dddddd"/><stop offset="0.6" stop-color="#d1d1d1"/><stop offset="0.7" stop-color="#b4b4b4"/><stop offset="0.8" stop-color="#959595"/><stop offset="0.9" stop-color="#7c7c7c"/><stop offset="1" stop-color="#656565"/></linearGradient><linearGradient id="s65" x1="0" y1="0" x2="0" y2="1"><stop offset="0" stop-color="#636363"/><stop offset="0.1" stop-color="#7d7d7d"/><stop offset="0.2" stop-color="#939393"/><stop offset="0.3" stop-color="#b3b3b3"/><stop offset="0.4" stop-color="#d1d1d1"/><stop offset="0.5" stop-color="#dddddd"/><stop offset="0.6" stop-color="#d1d1d1"/><stop offset="0.7" stop-color="#b3b3b3"/><stop offset="0.8" stop-color="#949494"/><stop offset="0.9" stop-color="#7b7b7b"/><stop offset="1" stop-color="#636363"/></linearGradient><linearGradient id="s66" x1="0" y1="0" x2="0" y2="1"><stop offset="0" stop-color="#616161"/><stop offset="0.1" stop-color="#7b7b7b"/><stop offset="0.2" stop-color="#929292"/><stop offset="0.3" stop-color="#b3b3b3"/><stop offset="0.4" stop-color="#d1d1d1"/><stop offset="0.5" stop-color="#dedede"/><stop offset="0.6" stop-color="#d1d1d1"/><stop offset="0.7" stop-color="#b3b3b3"/><stop offset="0.8" stop-color="#939393"/><stop offset="0.9" stop-color="#7a7a7a"/><stop offset="1" stop-color="#616161"/></linearGradient><linearGradient id="s67" x1="0" y1="0" x2="0" y2="1"><stop offset="0" stop-color="#606060"/><stop offset="0.1" stop-color="#7a7a7a"/><stop offset="0.2" stop-color="#919191"/><stop offset="0.3" stop-color="#b2b2b2"/><stop offset="0.4" stop-color="#d0d0d0"/><stop offset="0.5" stop-color="#dedede"/><stop offset="0.6" stop-color="#d0d0d0"/><stop offset="0.7" stop-color="#b2b2b2"/><stop offset="0.8" stop-color="#939393"/><stop offset="0.9" stop-color="#787878"/><stop offset="1" stop-color="#606060"/></linearGradient><linearGradient id="s68" x1="0" y1="0" x2="0" y2="1"><stop offset="0" stop-color="#5e5e5e"/><stop offset="0.1" stop-color="#797979"/><stop offset="0.2" stop-color="#909090"/><stop offset="0.3" stop-color="#b2b2b2"/><stop offset="0.4" stop-color="#d0d0d0"/><stop offset="0.5" stop-color="#dedede"/><stop offset="0.6" stop-color="#d0d0d0"/><stop offset="0.7" stop-color="#b2b2b2"/><stop offset="0.8" stop-color="#929292"/><stop offset="0.9" stop-color="#777777"/><stop offset="1" stop-color="#5e5e5e"/></linearGradient><linearGradient id="s69" x1="0" y1="0" x2="0" y2="1"><stop offset="0" stop-color="#5d5d5d"/><stop offset="0.1" stop-color="#787878"/><stop offset="0.2" stop-color="#8f8f8f"/><stop offset="0.3" stop-color="#b2b2b2"/><stop offset="0.4" stop-color="#d0d0d0"/><stop offset="0.5" stop-color="#dedede"/><stop offset="0.6" stop-color="#d0d0d0"/><stop offset="0.7" stop-color="#b2b2b2"/><stop offset="0.8" stop-color="#919191"/><stop offset="0.9" stop-color="#767676"/><stop offset="1" stop-color="#5d5d5d"/></linearGradient><linearGradient id="s70" x1="0" y1="0" x2="0" y2="1"><stop offset="0" stop-color="#5b5b5b"/><stop offset="0.1" stop-color="#777777"/><stop offset="0.2" stop-color="#8e8e8e"/><stop offset="0.3" stop-color="#b1b1b1"/><stop offset="0.4" stop-color="#d0d0d0"/><stop offset="0.5" stop-color="#dedede"/><stop offset="0.6" stop-color="#d0d0d0"/><stop offset="0.7" stop-color="#b1b1b1"/><stop offset="0.8" stop-color="#909090"/><stop offset="0.9" stop-color="#757575"/><stop offset="1" stop-color="#5b5b5b"/></linearGradient><linearGradient id="s71" x1="0" y1="0" x2="0" y2="1"><stop offset="0" stop-color="#5a5a5a"/><stop offset="0.1" stop-color="#757575"/><stop offset="0.2" stop-color="#8d8d8d"/><stop offset="0.3" stop-color="#b1b1b1"/><stop offset="0.4" stop-color="#d0d0d0"/><stop offset="0.5" stop-color="#dedede"/><stop offset="0.6" stop-color="#d0d0d0"/><stop offset="0.7" stop-color="#b1b1b1"/><stop offset="0.8" stop-color="#8f8f8f"/><stop offset="0.9" stop-color="#737373"/><stop offset="1" stop-color="#5a5a5a"/></linearGradient><linearGradient id="s72" x1="0" y1="0" x2="0" y2="1"><stop offset="0" stop-color="#585858"/><stop offset="0.1" stop-color="#747474"/><stop offset="0.2" stop-color="#8c8c8c"/><stop offset="0.3" stop-color="#b0b0b0"/><stop offset="0.4" stop-color="#d0d0d0"/><stop offset="0.5" stop-color="#dedede"/><stop offset="0.6" stop-color="#d0d0d0"/><stop offset="0.7" stop-color="#b0b0b0"/><stop offset="0.8" stop-color="#8e8e8e"/><stop offset="0.9" stop-color="#727272"/><stop offset="1" stop-color="#585858"/></linearGradient><linearGradient id="s73" x1="0" y1="0" x2="0" y2="1"><stop offset="0" stop-color="#585858"/><stop offset="0.1" stop-color="#747474"/><stop offset="0.2" stop-color="#8c8c8c"/><stop offset="0.3" stop-color="#b0b0b0"/><stop offset="0.4" stop-color="#d0d0d0"/><stop offset="0.5" stop-color="#dedede"/><stop offset="0.6" stop-color="#d0d0d0"/><stop offset="0.7" stop-color="#b0b0b0"/><stop offset="0.8" stop-color="#8e8e8e"/><stop offset="0.9" stop-color="#727272"/><stop offset="1" stop-color="#585858"/></linearGradient><linearGradient id="s74" x1="0" y1="0" x2="0" y2="1"><stop offset="0" stop-color="#585858"/><stop offset="0.1" stop-color="#747474"/><stop offset="0.2" stop-color="#8c8c8c"/><stop offset="0.3" stop-color="#b0b0b0"/><stop offset="0.4" stop-color="#d0d0d0"/><stop offset="0.5" stop-color="#dedede"/><stop offset="0.6" stop-color="#d0d0d0"/><stop offset="0.7" stop-color="#b0b0b0"/><stop offset="0.8" stop-color="#8e8e8e"/><stop offset="0.9" stop-color="#727272"/><stop offset="1" stop-color="#585858"/></linearGradient><linearGradient id="s75" x1="0" y1="0" x2="0" y2="1"><stop offset="0" stop-color="#585858"/><stop offset="0.1" stop-color="#747474"/><stop offset="0.2" stop-color="#8c8c8c"/><stop offset="0.3" stop-color="#b0b0b0"/><stop offset="0.4" stop-color="#d0d0d0"/><stop offset="0.5" stop-color="#dedede"/><stop offset="0.6" stop-color="#d0d0d0"/><stop offset="0.7" stop-color="#b0b0b0"/><stop offset="0.8" stop-color="#8e8e8e"/><stop offset="0.9" stop-color="#727272"/><stop offset="1" stop-color="#585858"/></linearGradient><linearGradient id="s76" x1="0" y1="0" x2="0" y2="1"><stop offset="0" stop-color="#585858"/><stop offset="0.1" stop-color="#747474"/><stop offset="0.2" stop-color="#8c8c8c"/><stop offset="0.3" stop-color="#b0b0b0"/><stop offset="0.4" stop-color="#d0d0d0"/><stop offset="0.5" stop-color="#dedede"/><stop offset="0.6" stop-color="#d0d0d0"/><stop offset="0.7" stop-color="#b0b0b0"/><stop offset="0.8" stop-color="#8e8e8e"/><stop offset="0.9" stop-color="#727272"/><stop offset="1" stop-color="#585858"/></linearGradient><linearGradient id="s77" x1="0" y1="0" x2="0" y2="1"><stop offset="0" stop-color="#585858"/><stop offset="0.1" stop-color="#747474"/><stop offset="0.2" stop-color="#8c8c8c"/><stop offset="0.3" stop-color="#b0b0b0"/><stop offset="0.4" stop-color="#d0d0d0"/><stop offset="0.5" stop-color="#dedede"/><stop offset="0.6" stop-color="#d0d0d0"/><stop offset="0.7" stop-color="#b0b0b0"/><stop offset="0.8" stop-color="#8e8e8e"/><stop offset="0.9" stop-color="#727272"/><stop offset="1" stop-color="#585858"/></linearGradient><linearGradient id="s78" x1="0" y1="0" x2="0" y2="1"><stop offset="0" stop-color="#585858"/><stop offset="0.1" stop-color="#747474"/><stop offset="0.2" stop-color="#8c8c8c"/><stop offset="0.3" stop-color="#b0b0b0"/><stop offset="0.4" stop-color="#d0d0d0"/><stop offset="0.5" stop-color="#dedede"/><stop offset="0.6" stop-color="#d0d0d0"/><stop offset="0.7" stop-color="#b0b0b0"/><stop offset="0.8" stop-color="#8e8e8e"/><stop offset="0.9" stop-color="#727272"/><stop offset="1" stop-color="#585858"/></linearGradient>
</defs>
<g stroke="#454545" stroke-width="1.3" fill="none">
<!-- DC ext lines -->
<line x1="104.5" y1="207.3" x2="400" y2="207.3"/>
<line x1="104.5" y1="309.4" x2="162.3" y2="309.4"/>
<line x1="182.8" y1="309.4" x2="400" y2="309.4"/>
<line x1="111.5" y1="215" x2="111.5" y2="300"/>
<!-- LU / OAL ext -->
<line x1="172.4" y1="262" x2="172.4" y2="444.6"/>
<line x1="408.5" y1="305" x2="408.5" y2="387.6"/>
<line x1="813.55" y1="294.2" x2="813.55" y2="444.4"/>
<line x1="190" y1="380" x2="395" y2="380"/>
<line x1="190" y1="438" x2="800" y2="438"/>
<!-- DCON ext -->
<line x1="808" y1="229" x2="879.5" y2="229"/>
<line x1="808" y1="288.3" x2="879.5" y2="288.3"/>
<line x1="872.6" y1="40.8" x2="872.6" y2="330.5"/>
</g>
<g fill="#1e1e1e" stroke="none">
<polygon points="111.5,207.8 105,233.4 118,233.4"/>
<polygon points="111.5,309.2 105,283.2 118,283.2"/>
<polygon points="872.6,227.1 866,203.2 879.2,203.2"/>
<polygon points="872.6,289.6 866,314.6 879.4,314.6"/>
<polygon points="172.6,380 198.7,373.4 198.7,386.6"/>
<polygon points="408.6,380 382.4,373.4 382.4,386.6"/>
<polygon points="172.6,438 198.7,431.4 198.7,444.6"/>
<polygon points="813.55,438 786.8,431.4 786.8,444.6"/>
</g>
<!-- shank -->
<path d="M424,221 C426,227 429,228.9 436,228.9 L806,228.9 L813.8,236.5 L813.8,281 L806,289 L436,289 C429,289 426,290.5 424,296.5 Z" fill="url(#gs)" stroke="none"/>
<!-- neck -->
<rect x="408" y="219" width="18" height="79.5" fill="url(#gn)"/>
<!-- head -->
<clipPath id="hc"><path d="M172,253.41 L173.98,252.64 L175.97,251.87 L177.95,251.11 L179.93,250.36 L181.92,249.61 L183.9,248.86 L185.88,248.12 L187.87,247.38 L189.85,246.65 L191.83,245.93 L193.82,245.21 L195.8,244.49 L197.78,243.78 L199.76,243.07 L201.75,242.37 L203.73,241.67 L205.71,240.98 L207.7,240.3 L209.68,239.61 L211.66,238.94 L213.65,238.27 L215.63,237.6 L217.61,236.94 L219.6,236.29 L221.58,235.64 L223.56,235 L225.55,234.36 L227.53,233.72 L229.51,233.1 L231.5,232.47 L233.48,231.86 L235.46,231.25 L237.45,230.64 L239.43,230.04 L241.41,229.45 L243.39,228.86 L245.38,228.28 L247.36,227.7 L249.34,227.13 L251.33,226.57 L253.31,226.01 L255.29,225.46 L257.28,224.91 L259.26,224.37 L261.24,223.84 L263.23,223.31 L265.21,222.79 L267.19,222.27 L269.18,221.77 L271.16,221.26 L273.14,220.77 L275.13,220.28 L277.11,219.8 L279.09,219.32 L281.08,218.85 L283.06,218.39 L285.04,217.94 L287.03,217.49 L289.01,217.05 L290.99,216.62 L292.97,216.19 L294.96,215.77 L296.94,215.36 L298.92,214.96 L300.91,214.56 L302.89,214.18 L304.87,213.8 L306.86,213.42 L308.84,213.06 L310.82,212.71 L312.81,212.36 L314.79,212.02 L316.77,211.69 L318.76,211.38 L320.74,211.07 L322.72,210.76 L324.71,210.47 L326.69,210.19 L328.67,209.92 L330.66,209.66 L332.64,209.41 L334.62,209.18 L336.61,208.95 L338.59,208.73 L340.57,208.53 L342.55,208.35 L344.54,208.17 L346.52,208.01 L348.5,207.87 L350.49,207.74 L352.47,207.64 L354.45,207.56 L356.44,207.51 L358.42,207.5 L360.4,207.5 L362.39,207.5 L364.37,207.5 L366.35,207.5 L368.34,207.5 L370.32,207.5 L372.3,207.5 L374.29,207.5 L376.27,207.5 L378.25,207.5 L380.24,207.5 L382.22,207.5 L384.2,207.5 L386.18,207.5 L388.17,207.5 L390.15,207.5 L392.13,207.5 L394.12,207.5 L396.1,207.5 L398.08,207.5 L400.07,207.5 L402.05,207.5 L404.03,207.5 L406.02,207.5 L408,207.5 L408,309.5 L406.02,309.5 L404.03,309.5 L402.05,309.5 L400.07,309.5 L398.08,309.5 L396.1,309.5 L394.12,309.5 L392.13,309.5 L390.15,309.5 L388.17,309.5 L386.18,309.5 L384.2,309.5 L382.22,309.5 L380.24,309.5 L378.25,309.5 L376.27,309.5 L374.29,309.5 L372.3,309.5 L370.32,309.5 L368.34,309.5 L366.35,309.5 L364.37,309.5 L362.39,309.5 L360.4,309.5 L358.42,309.5 L356.44,309.49 L354.45,309.44 L352.47,309.36 L350.49,309.26 L348.5,309.13 L346.52,308.99 L344.54,308.83 L342.55,308.65 L340.57,308.47 L338.59,308.27 L336.61,308.05 L334.62,307.82 L332.64,307.59 L330.66,307.34 L328.67,307.08 L326.69,306.81 L324.71,306.53 L322.72,306.24 L320.74,305.93 L318.76,305.62 L316.77,305.31 L314.79,304.98 L312.81,304.64 L310.82,304.29 L308.84,303.94 L306.86,303.58 L304.87,303.2 L302.89,302.82 L300.91,302.44 L298.92,302.04 L296.94,301.64 L294.96,301.23 L292.97,300.81 L290.99,300.38 L289.01,299.95 L287.03,299.51 L285.04,299.06 L283.06,298.61 L281.08,298.15 L279.09,297.68 L277.11,297.2 L275.13,296.72 L273.14,296.23 L271.16,295.74 L269.18,295.23 L267.19,294.73 L265.21,294.21 L263.23,293.69 L261.24,293.16 L259.26,292.63 L257.28,292.09 L255.29,291.54 L253.31,290.99 L251.33,290.43 L249.34,289.87 L247.36,289.3 L245.38,288.72 L243.39,288.14 L241.41,287.55 L239.43,286.96 L237.45,286.36 L235.46,285.75 L233.48,285.14 L231.5,284.53 L229.51,283.9 L227.53,283.28 L225.55,282.64 L223.56,282 L221.58,281.36 L219.6,280.71 L217.61,280.06 L215.63,279.4 L213.65,278.73 L211.66,278.06 L209.68,277.39 L207.7,276.7 L205.71,276.02 L203.73,275.33 L201.75,274.63 L199.76,273.93 L197.78,273.22 L195.8,272.51 L193.82,271.79 L191.83,271.07 L189.85,270.35 L187.87,269.62 L185.88,268.88 L183.9,268.14 L181.92,267.39 L179.93,266.64 L177.95,265.89 L175.97,265.13 L173.98,264.36 L172,263.59 Z"/></clipPath>
<g clip-path="url(#hc)" shape-rendering="crispEdges"><rect x="172" y="252.83" width="3" height="11.35" fill="url(#s0)"/><rect x="175" y="251.67" width="3" height="13.66" fill="url(#s1)"/><rect x="178" y="250.52" width="3" height="15.95" fill="url(#s2)"/><rect x="181" y="249.39" width="3" height="18.22" fill="url(#s3)"/><rect x="184" y="248.26" width="3" height="20.47" fill="url(#s4)"/><rect x="187" y="247.15" width="3" height="22.7" fill="url(#s5)"/><rect x="190" y="246.05" width="3" height="24.9" fill="url(#s6)"/><rect x="193" y="244.96" width="3" height="27.09" fill="url(#s7)"/><rect x="196" y="243.88" width="3" height="29.24" fill="url(#s8)"/><rect x="199" y="242.81" width="3" height="31.38" fill="url(#s9)"/><rect x="202" y="241.75" width="3" height="33.49" fill="url(#s10)"/><rect x="205" y="240.71" width="3" height="35.58" fill="url(#s11)"/><rect x="208" y="239.68" width="3" height="37.65" fill="url(#s12)"/><rect x="211" y="238.66" width="3" height="39.69" fill="url(#s13)"/><rect x="214" y="237.65" width="3" height="41.71" fill="url(#s14)"/><rect x="217" y="236.65" width="3" height="43.7" fill="url(#s15)"/><rect x="220" y="235.67" width="3" height="45.67" fill="url(#s16)"/><rect x="223" y="234.69" width="3" height="47.61" fill="url(#s17)"/><rect x="226" y="233.73" width="3" height="49.53" fill="url(#s18)"/><rect x="229" y="232.79" width="3" height="51.43" fill="url(#s19)"/><rect x="232" y="231.85" width="3" height="53.3" fill="url(#s20)"/><rect x="235" y="230.93" width="3" height="55.14" fill="url(#s21)"/><rect x="238" y="230.02" width="3" height="56.96" fill="url(#s22)"/><rect x="241" y="229.13" width="3" height="58.75" fill="url(#s23)"/><rect x="244" y="228.24" width="3" height="60.51" fill="url(#s24)"/><rect x="247" y="227.37" width="3" height="62.25" fill="url(#s25)"/><rect x="250" y="226.52" width="3" height="63.96" fill="url(#s26)"/><rect x="253" y="225.68" width="3" height="65.64" fill="url(#s27)"/><rect x="256" y="224.85" width="3" height="67.3" fill="url(#s28)"/><rect x="259" y="224.04" width="3" height="68.93" fill="url(#s29)"/><rect x="262" y="223.24" width="3" height="70.52" fill="url(#s30)"/><rect x="265" y="222.45" width="3" height="72.09" fill="url(#s31)"/><rect x="268" y="221.68" width="3" height="73.63" fill="url(#s32)"/><rect x="271" y="220.93" width="3" height="75.14" fill="url(#s33)"/><rect x="274" y="220.19" width="3" height="76.62" fill="url(#s34)"/><rect x="277" y="219.46" width="3" height="78.07" fill="url(#s35)"/><rect x="280" y="218.75" width="3" height="79.49" fill="url(#s36)"/><rect x="283" y="218.06" width="3" height="80.88" fill="url(#s37)"/><rect x="286" y="217.38" width="3" height="82.23" fill="url(#s38)"/><rect x="289" y="216.72" width="3" height="83.55" fill="url(#s39)"/><rect x="292" y="216.08" width="3" height="84.84" fill="url(#s40)"/><rect x="295" y="215.45" width="3" height="86.1" fill="url(#s41)"/><rect x="298" y="214.84" width="3" height="87.31" fill="url(#s42)"/><rect x="301" y="214.25" width="3" height="88.5" fill="url(#s43)"/><rect x="304" y="213.68" width="3" height="89.64" fill="url(#s44)"/><rect x="307" y="213.12" width="3" height="90.75" fill="url(#s45)"/><rect x="310" y="212.59" width="3" height="91.82" fill="url(#s46)"/><rect x="313" y="212.07" width="3" height="92.86" fill="url(#s47)"/><rect x="316" y="211.58" width="3" height="93.85" fill="url(#s48)"/><rect x="319" y="211.1" width="3" height="94.8" fill="url(#s49)"/><rect x="322" y="210.65" width="3" height="95.7" fill="url(#s50)"/><rect x="325" y="210.22" width="3" height="96.56" fill="url(#s51)"/><rect x="328" y="209.81" width="3" height="97.37" fill="url(#s52)"/><rect x="331" y="209.43" width="3" height="98.14" fill="url(#s53)"/><rect x="334" y="209.07" width="3" height="98.85" fill="url(#s54)"/><rect x="337" y="208.74" width="3" height="99.51" fill="url(#s55)"/><rect x="340" y="208.44" width="3" height="100.11" fill="url(#s56)"/><rect x="343" y="208.17" width="3" height="100.65" fill="url(#s57)"/><rect x="346" y="207.94" width="3" height="101.12" fill="url(#s58)"/><rect x="349" y="207.74" width="3" height="101.51" fill="url(#s59)"/><rect x="352" y="207.59" width="3" height="101.81" fill="url(#s60)"/><rect x="355" y="207.51" width="3" height="101.99" fill="url(#s61)"/><rect x="358" y="207.5" width="3" height="102" fill="url(#s62)"/><rect x="361" y="207.5" width="3" height="102" fill="url(#s63)"/><rect x="364" y="207.5" width="3" height="102" fill="url(#s64)"/><rect x="367" y="207.5" width="3" height="102" fill="url(#s65)"/><rect x="370" y="207.5" width="3" height="102" fill="url(#s66)"/><rect x="373" y="207.5" width="3" height="102" fill="url(#s67)"/><rect x="376" y="207.5" width="3" height="102" fill="url(#s68)"/><rect x="379" y="207.5" width="3" height="102" fill="url(#s69)"/><rect x="382" y="207.5" width="3" height="102" fill="url(#s70)"/><rect x="385" y="207.5" width="3" height="102" fill="url(#s71)"/><rect x="388" y="207.5" width="3" height="102" fill="url(#s72)"/><rect x="391" y="207.5" width="3" height="102" fill="url(#s73)"/><rect x="394" y="207.5" width="3" height="102" fill="url(#s74)"/><rect x="397" y="207.5" width="3" height="102" fill="url(#s75)"/><rect x="400" y="207.5" width="3" height="102" fill="url(#s76)"/><rect x="403" y="207.5" width="3" height="102" fill="url(#s77)"/><rect x="406" y="207.5" width="2" height="102" fill="url(#s78)"/></g>
<line x1="153.6" y1="258.6" x2="830" y2="258.6" stroke="#fff" stroke-opacity="0.35" stroke-width="3.2"/>
<path d="M348.48,209.69 L348.96,209.69 L349.43,209.69 L349.9,209.68 L350.37,209.69 L350.85,209.69 L351.32,209.69 L351.79,209.7 L352.26,209.7 L352.74,209.71 L353.21,209.73 L353.68,209.74 L354.15,209.75 L354.63,209.77 L355.1,209.79 L355.57,209.82 L356.04,209.84 L356.51,209.87 L356.99,209.9 L357.46,209.94 L357.93,209.98 L358.4,210.02 L358.88,210.06 L359.35,210.1 L359.82,210.14 L360.29,210.18 L360.77,210.23 L361.24,210.27 L361.71,210.31 L362.18,210.36 L362.65,210.4 L363.13,210.45 L363.6,210.49 L364.07,210.54 L364.54,210.59 L365.02,210.64 L365.49,210.69 L365.96,210.74 L366.43,210.79 L366.91,210.84 L367.38,210.89 L367.85,210.94 L368.32,210.99 L368.8,211.05 L369.27,211.1 L369.74,211.15 L370.21,211.21 L370.68,211.26 L371.16,211.32 L371.63,211.38 L372.1,211.44 L372.57,211.49 L373.05,211.55 L373.52,211.61 L373.99,211.67 L374.46,211.73 L374.94,211.79 L375.41,211.86 L375.88,211.92 L376.35,211.98 L376.83,212.05 L377.3,212.11 L377.77,212.18 L378.24,212.24 L378.71,212.31 L379.19,212.37 L379.66,212.44 L380.13,212.51 L380.6,212.58 L381.08,212.65 L381.55,212.72 L382.02,212.79 L382.49,212.86 L382.97,212.93 L383.44,213 L383.91,213.08 L384.38,213.15 L384.86,213.22 L385.33,213.3 L385.8,213.37 L386.27,213.45 L386.74,213.53 L387.22,213.6 L387.69,213.68 L388.16,213.76 L388.63,213.84 L389.11,213.92 L389.58,214 L390.05,214.08 L390.52,214.16 L391,214.24 L391.47,214.32 L391.94,214.41 L392.41,214.49 L392.88,214.57 L393.36,214.66 L393.83,214.74 L394.3,214.83 L394.77,214.91 L395.25,215 L395.72,215.09 L396.19,215.18 L396.66,215.27 L397.14,215.36 L397.61,215.45 L398.08,215.54 L398.55,215.63 L399.03,215.72 L399.5,215.81 L399.97,215.9 L400.44,216 L400.91,216.09 L401.39,216.18 L401.86,216.28 L402.33,216.37 L402.8,216.47 L403.28,216.57 L403.75,216.66 L404.22,216.76 L404.69,216.86 L405.17,216.96 L405.64,217.06 L406.11,217.16 L406.58,217.26 L407.06,217.36 L407.53,217.46 L408,217.56 M274.8,222.17 L275.27,222.08 L275.74,222 L276.22,221.91 L276.69,221.83 L277.16,221.75 L277.63,221.66 L278.11,221.58 L278.58,221.51 L279.05,221.43 L279.52,221.35 L279.99,221.28 L280.47,221.2 L280.94,221.13 L281.41,221.06 L281.88,220.99 L282.36,220.92 L282.83,220.85 L283.3,220.78 L283.77,220.71 L284.25,220.65 L284.72,220.58 L285.19,220.52 L285.66,220.46 L286.14,220.4 L286.61,220.34 L287.08,220.28 L287.55,220.22 L288.02,220.16 L288.5,220.11 L288.97,220.05 L289.44,220 L289.91,219.95 L290.39,219.89 L290.86,219.84 L291.33,219.8 L291.8,219.75 L292.28,219.7 L292.75,219.66 L293.22,219.61 L293.69,219.57 L294.16,219.53 L294.64,219.49 L295.11,219.45 L295.58,219.42 L296.05,219.38 L296.53,219.34 L297,219.31 L297.47,219.28 L297.94,219.25 L298.42,219.22 L298.89,219.19 L299.36,219.16 L299.83,219.14 L300.31,219.11 L300.78,219.09 L301.25,219.07 L301.72,219.05 L302.19,219.03 L302.67,219.01 L303.14,218.99 L303.61,218.98 L304.08,218.97 L304.56,218.95 L305.03,218.94 L305.5,218.93 L305.97,218.92 L306.45,218.92 L306.92,218.91 L307.39,218.91 L307.86,218.9 L308.34,218.9 L308.81,218.9 L309.28,218.9 L309.75,218.9 L310.22,218.91 L310.7,218.91 L311.17,218.92 L311.64,218.92 L312.11,218.93 L312.59,218.94 L313.06,218.96 L313.53,218.97 L314,218.98 L314.48,219 L314.95,219.01 L315.42,219.03 L315.89,219.05 L316.37,219.07 L316.84,219.1 L317.31,219.12 L317.78,219.15 L318.25,219.17 L318.73,219.2 L319.2,219.23 L319.67,219.26 L320.14,219.29 L320.62,219.33 L321.09,219.36 L321.56,219.4 L322.03,219.43 L322.51,219.47 L322.98,219.51 L323.45,219.55 L323.92,219.6 L324.39,219.64 L324.87,219.69 L325.34,219.73 L325.81,219.78 L326.28,219.83 L326.76,219.88 L327.23,219.94 L327.7,219.99 L328.17,220.05 L328.65,220.1 L329.12,220.16 L329.59,220.22 L330.06,220.28 L330.54,220.34 L331.01,220.41 L331.48,220.47 L331.95,220.54 L332.42,220.61 L332.9,220.67 L333.37,220.75 L333.84,220.82 L334.31,220.89 L334.79,220.96 L335.26,221.04 L335.73,221.12 L336.2,221.2 L336.68,221.28 L337.15,221.36 L337.62,221.44 L338.09,221.53 L338.57,221.61 L339.04,221.7 L339.51,221.79 L339.98,221.88 L340.45,221.97 L340.93,222.06 L341.4,222.15 L341.87,222.25 L342.34,222.35 L342.82,222.44 L343.29,222.54 L343.76,222.64 L344.23,222.75 L344.71,222.85 L345.18,222.95 L345.65,223.06 L346.12,223.17 L346.6,223.28 L347.07,223.39 L347.54,223.5 L348.01,223.61 L348.48,223.73 L348.96,223.84 L349.43,223.96 L349.9,224.08 L350.37,224.2 L350.85,224.32 L351.32,224.45 L351.79,224.57 L352.26,224.7 L352.74,224.83 L353.21,224.96 L353.68,225.09 L354.15,225.22 L354.63,225.35 L355.1,225.49 L355.57,225.63 L356.04,225.77 L356.51,225.91 L356.99,226.06 L357.46,226.2 L357.93,226.35 L358.4,226.5 L358.88,226.65 L359.35,226.8 L359.82,226.95 L360.29,227.11 L360.77,227.26 L361.24,227.41 L361.71,227.56 L362.18,227.72 L362.65,227.87 L363.13,228.03 L363.6,228.18 L364.07,228.34 L364.54,228.49 L365.02,228.65 L365.49,228.81 L365.96,228.96 L366.43,229.12 L366.91,229.28 L367.38,229.44 L367.85,229.6 L368.32,229.76 L368.8,229.92 L369.27,230.08 L369.74,230.24 L370.21,230.4 L370.68,230.56 L371.16,230.73 L371.63,230.89 L372.1,231.05 L372.57,231.22 L373.05,231.38 L373.52,231.54 L373.99,231.71 L374.46,231.87 L374.94,232.04 L375.41,232.21 L375.88,232.37 L376.35,232.54 L376.83,232.71 L377.3,232.88 L377.77,233.04 L378.24,233.21 L378.71,233.38 L379.19,233.55 L379.66,233.72 L380.13,233.89 L380.6,234.06 L381.08,234.23 L381.55,234.4 L382.02,234.57 L382.49,234.75 L382.97,234.92 L383.44,235.09 L383.91,235.26 L384.38,235.44 L384.86,235.61 L385.33,235.79 L385.8,235.96 L386.27,236.14 L386.74,236.31 L387.22,236.49 L387.69,236.66 L388.16,236.84 L388.63,237.02 L389.11,237.19 L389.58,237.37 L390.05,237.55 L390.52,237.73 L391,237.9 L391.47,238.08 L391.94,238.26 L392.41,238.44 L392.88,238.62 L393.36,238.8 L393.83,238.98 L394.3,239.16 L394.77,239.34 L395.25,239.52 L395.72,239.7 L396.19,239.88 L396.66,240.07 L397.14,240.25 L397.61,240.43 L398.08,240.61 L398.55,240.8 L399.03,240.98 L399.5,241.16 L399.97,241.35 L400.44,241.53 L400.91,241.72 L401.39,241.9 L401.86,242.09 L402.33,242.27 L402.8,242.46 L403.28,242.64 L403.75,242.83 L404.22,243.01 L404.69,243.2 L405.17,243.39 L405.64,243.57 L406.11,243.76 L406.58,243.95 L407.06,244.14 L407.53,244.32 L408,244.51 M245.51,230.08 L245.99,230.02 L246.46,229.96 L246.93,229.91 L247.4,229.87 L247.88,229.83 L248.35,229.79 L248.82,229.76 L249.29,229.74 L249.76,229.71 L250.24,229.7 L250.71,229.69 L251.18,229.68 L251.65,229.67 L252.13,229.67 L252.6,229.68 L253.07,229.69 L253.54,229.7 L254.02,229.72 L254.49,229.74 L254.96,229.76 L255.43,229.79 L255.91,229.82 L256.38,229.86 L256.85,229.89 L257.32,229.94 L257.79,229.98 L258.27,230.03 L258.74,230.08 L259.21,230.13 L259.68,230.19 L260.16,230.25 L260.63,230.31 L261.1,230.37 L261.57,230.44 L262.05,230.51 L262.52,230.58 L262.99,230.65 L263.46,230.72 L263.93,230.8 L264.41,230.88 L264.88,230.96 L265.35,231.04 L265.82,231.12 L266.3,231.21 L266.77,231.29 L267.24,231.38 L267.71,231.47 L268.19,231.56 L268.66,231.65 L269.13,231.74 L269.6,231.83 L270.08,231.92 L270.55,232.02 L271.02,232.11 L271.49,232.2 L271.96,232.3 L272.44,232.39 L272.91,232.49 L273.38,232.58 L273.85,232.68 L274.33,232.78 L274.8,232.87 L275.27,232.97 L275.74,233.06 L276.22,233.15 L276.69,233.25 L277.16,233.34 L277.63,233.43 L278.11,233.53 L278.58,233.62 L279.05,233.71 L279.52,233.8 L279.99,233.88 L280.47,233.97 L280.94,234.06 L281.41,234.14 L281.88,234.23 L282.36,234.31 L282.83,234.39 L283.3,234.47 L283.77,234.55 L284.25,234.63 L284.72,234.7 L285.19,234.78 L285.66,234.85 L286.14,234.92 L286.61,234.98 L287.08,235.05 L287.55,235.11 L288.02,235.18 L288.5,235.24 L288.97,235.3 L289.44,235.36 L289.91,235.43 L290.39,235.5 L290.86,235.56 L291.33,235.63 L291.8,235.7 L292.28,235.77 L292.75,235.85 L293.22,235.92 L293.69,236 L294.16,236.07 L294.64,236.15 L295.11,236.23 L295.58,236.31 L296.05,236.39 L296.53,236.47 L297,236.55 L297.47,236.64 L297.94,236.72 L298.42,236.81 L298.89,236.9 L299.36,236.99 L299.83,237.08 L300.31,237.17 L300.78,237.26 L301.25,237.35 L301.72,237.45 L302.19,237.54 L302.67,237.64 L303.14,237.74 L303.61,237.84 L304.08,237.94 L304.56,238.04 L305.03,238.14 L305.5,238.24 L305.97,238.35 L306.45,238.45 L306.92,238.56 L307.39,238.67 L307.86,238.78 L308.34,238.89 L308.81,239 L309.28,239.11 L309.75,239.22 L310.22,239.34 L310.7,239.45 L311.17,239.57 L311.64,239.69 L312.11,239.81 L312.59,239.93 L313.06,240.05 L313.53,240.17 L314,240.29 L314.48,240.41 L314.95,240.54 L315.42,240.66 L315.89,240.79 L316.37,240.92 L316.84,241.05 L317.31,241.18 L317.78,241.31 L318.25,241.44 L318.73,241.57 L319.2,241.7 L319.67,241.84 L320.14,241.97 L320.62,242.11 L321.09,242.25 L321.56,242.39 L322.03,242.52 L322.51,242.66 L322.98,242.81 L323.45,242.95 L323.92,243.09 L324.39,243.23 L324.87,243.38 L325.34,243.52 L325.81,243.67 L326.28,243.82 L326.76,243.96 L327.23,244.11 L327.7,244.26 L328.17,244.41 L328.65,244.57 L329.12,244.72 L329.59,244.87 L330.06,245.02 L330.54,245.18 L331.01,245.33 L331.48,245.49 L331.95,245.65 L332.42,245.81 L332.9,245.96 L333.37,246.12 L333.84,246.28 L334.31,246.44 L334.79,246.61 L335.26,246.77 L335.73,246.93 L336.2,247.1 L336.68,247.26 L337.15,247.43 L337.62,247.59 L338.09,247.76 L338.57,247.93 L339.04,248.09 L339.51,248.26 L339.98,248.43 L340.45,248.6 L340.93,248.77 L341.4,248.94 L341.87,249.12 L342.34,249.29 L342.82,249.46 L343.29,249.63 L343.76,249.81 L344.23,249.98 L344.71,250.16 L345.18,250.33 L345.65,250.51 L346.12,250.69 L346.6,250.87 L347.07,251.04 L347.54,251.22 L348.01,251.4 L348.48,251.58 L348.96,251.76 L349.43,251.94 L349.9,252.12 L350.37,252.3 L350.85,252.49 L351.32,252.67 L351.79,252.85 L352.26,253.03 L352.74,253.22 L353.21,253.4 L353.68,253.59 L354.15,253.77 L354.63,253.96 L355.1,254.14 L355.57,254.33 L356.04,254.51 L356.51,254.7 L356.99,254.88 L357.46,255.07 L357.93,255.26 L358.4,255.45 L358.88,255.63 L359.35,255.82 L359.82,256.01 L360.29,256.2 L360.77,256.38 L361.24,256.57 L361.71,256.76 L362.18,256.94 L362.65,257.13 L363.13,257.32 L363.6,257.51 L364.07,257.69 L364.54,257.88 L365.02,258.07 L365.49,258.26 L365.96,258.44 L366.43,258.63 L366.91,258.82 L367.38,259.01 L367.85,259.2 L368.32,259.38 L368.8,259.57 L369.27,259.76 L369.74,259.95 L370.21,260.13 L370.68,260.32 L371.16,260.51 L371.63,260.69 L372.1,260.88 L372.57,261.07 L373.05,261.26 L373.52,261.44 L373.99,261.63 L374.46,261.82 L374.94,262.01 L375.41,262.19 L375.88,262.38 L376.35,262.57 L376.83,262.75 L377.3,262.94 L377.77,263.13 L378.24,263.31 L378.71,263.5 L379.19,263.69 L379.66,263.87 L380.13,264.06 L380.6,264.25 L381.08,264.43 L381.55,264.62 L382.02,264.8 L382.49,264.99 L382.97,265.18 L383.44,265.36 L383.91,265.55 L384.38,265.73 L384.86,265.92 L385.33,266.1 L385.8,266.29 L386.27,266.47 L386.74,266.66 L387.22,266.84 L387.69,267.03 L388.16,267.21 L388.63,267.4 L389.11,267.58 L389.58,267.77 L390.05,267.95 L390.52,268.14 L391,268.32 L391.47,268.5 L391.94,268.69 L392.41,268.87 L392.88,269.05 L393.36,269.24 L393.83,269.42 L394.3,269.6 L394.77,269.79 L395.25,269.97 L395.72,270.15 L396.19,270.33 L396.66,270.51 L397.14,270.7 L397.61,270.88 L398.08,271.06 L398.55,271.24 L399.03,271.42 L399.5,271.6 L399.97,271.78 L400.44,271.97 L400.91,272.15 L401.39,272.33 L401.86,272.51 L402.33,272.69 L402.8,272.87 L403.28,273.04 L403.75,273.22 L404.22,273.4 L404.69,273.58 L405.17,273.76 L405.64,273.94 L406.11,274.12 L406.58,274.29 L407.06,274.47 L407.53,274.65 L408,274.83 M198.75,245.25 L199.22,245.12 L199.7,245 L200.17,244.88 L200.64,244.76 L201.11,244.65 L201.59,244.53 L202.06,244.42 L202.53,244.31 L203,244.21 L203.47,244.1 L203.95,244 L204.42,243.9 L204.89,243.8 L205.36,243.71 L205.84,243.62 L206.31,243.53 L206.78,243.44 L207.25,243.36 L207.73,243.27 L208.2,243.2 L208.67,243.12 L209.14,243.04 L209.62,242.97 L210.09,242.9 L210.56,242.84 L211.03,242.77 L211.5,242.71 L211.98,242.65 L212.45,242.59 L212.92,242.54 L213.39,242.49 L213.87,242.44 L214.34,242.39 L214.81,242.35 L215.28,242.31 L215.76,242.27 L216.23,242.23 L216.7,242.2 L217.17,242.17 L217.65,242.14 L218.12,242.11 L218.59,242.09 L219.06,242.07 L219.53,242.05 L220.01,242.03 L220.48,242.02 L220.95,242.01 L221.42,242 L221.9,241.99 L222.37,241.98 L222.84,241.98 L223.31,241.98 L223.79,241.99 L224.26,241.99 L224.73,242 L225.2,242.01 L225.67,242.02 L226.15,242.04 L226.62,242.05 L227.09,242.07 L227.56,242.09 L228.04,242.12 L228.51,242.14 L228.98,242.17 L229.45,242.2 L229.93,242.23 L230.4,242.27 L230.87,242.3 L231.34,242.34 L231.82,242.38 L232.29,242.43 L232.76,242.47 L233.23,242.52 L233.7,242.57 L234.18,242.62 L234.65,242.67 L235.12,242.73 L235.59,242.78 L236.07,242.84 L236.54,242.9 L237.01,242.96 L237.48,243.03 L237.96,243.1 L238.43,243.16 L238.9,243.23 L239.37,243.31 L239.85,243.38 L240.32,243.45 L240.79,243.53 L241.26,243.61 L241.73,243.69 L242.21,243.77 L242.68,243.85 L243.15,243.94 L243.62,244.03 L244.1,244.11 L244.57,244.2 L245.04,244.29 L245.51,244.39 L245.99,244.48 L246.46,244.57 L246.93,244.67 L247.4,244.77 L247.88,244.87 L248.35,244.97 L248.82,245.07 L249.29,245.17 L249.76,245.28 L250.24,245.38 L250.71,245.49 L251.18,245.6 L251.65,245.71 L252.13,245.82 L252.6,245.93 L253.07,246.04 L253.54,246.16 L254.02,246.27 L254.49,246.39 L254.96,246.5 L255.43,246.62 L255.91,246.74 L256.38,246.86 L256.85,246.98 L257.32,247.1 L257.79,247.22 L258.27,247.34 L258.74,247.47 L259.21,247.59 L259.68,247.72 L260.16,247.84 L260.63,247.97 L261.1,248.09 L261.57,248.22 L262.05,248.35 L262.52,248.48 L262.99,248.61 L263.46,248.74 L263.93,248.87 L264.41,249 L264.88,249.13 L265.35,249.26 L265.82,249.4 L266.3,249.53 L266.77,249.66 L267.24,249.8 L267.71,249.93 L268.19,250.06 L268.66,250.2 L269.13,250.33 L269.6,250.47 L270.08,250.6 L270.55,250.74 L271.02,250.87 L271.49,251.01 L271.96,251.14 L272.44,251.28 L272.91,251.42 L273.38,251.55 L273.85,251.69 L274.33,251.83 L274.8,251.96 L275.27,252.1 L275.74,252.23 L276.22,252.37 L276.69,252.51 L277.16,252.64 L277.63,252.78 L278.11,252.92 L278.58,253.05 L279.05,253.19 L279.52,253.32 L279.99,253.46 L280.47,253.59 L280.94,253.73 L281.41,253.86 L281.88,254 L282.36,254.13 L282.83,254.26 L283.3,254.4 L283.77,254.53 L284.25,254.66 L284.72,254.79 L285.19,254.93 L285.66,255.06 L286.14,255.19 L286.61,255.32 L287.08,255.45 L287.55,255.58 L288.02,255.71 L288.5,255.84 L288.97,255.97 L289.44,256.1 L289.91,256.23 L290.39,256.36 L290.86,256.5 L291.33,256.63 L291.8,256.76 L292.28,256.9 L292.75,257.04 L293.22,257.17 L293.69,257.31 L294.16,257.45 L294.64,257.59 L295.11,257.73 L295.58,257.87 L296.05,258.01 L296.53,258.15 L297,258.29 L297.47,258.43 L297.94,258.58 L298.42,258.72 L298.89,258.87 L299.36,259.01 L299.83,259.16 L300.31,259.31 L300.78,259.45 L301.25,259.6 L301.72,259.75 L302.19,259.9 L302.67,260.05 L303.14,260.2 L303.61,260.35 L304.08,260.5 L304.56,260.65 L305.03,260.81 L305.5,260.96 L305.97,261.11 L306.45,261.27 L306.92,261.42 L307.39,261.58 L307.86,261.74 L308.34,261.89 L308.81,262.05 L309.28,262.21 L309.75,262.37 L310.22,262.52 L310.7,262.68 L311.17,262.84 L311.64,263 L312.11,263.16 L312.59,263.32 L313.06,263.48 L313.53,263.65 L314,263.81 L314.48,263.97 L314.95,264.13 L315.42,264.3 L315.89,264.46 L316.37,264.63 L316.84,264.79 L317.31,264.96 L317.78,265.12 L318.25,265.29 L318.73,265.45 L319.2,265.62 L319.67,265.79 L320.14,265.95 L320.62,266.12 L321.09,266.29 L321.56,266.46 L322.03,266.63 L322.51,266.79 L322.98,266.96 L323.45,267.13 L323.92,267.3 L324.39,267.47 L324.87,267.64 L325.34,267.81 L325.81,267.98 L326.28,268.15 L326.76,268.32 L327.23,268.49 L327.7,268.67 L328.17,268.84 L328.65,269.01 L329.12,269.18 L329.59,269.35 L330.06,269.52 L330.54,269.7 L331.01,269.87 L331.48,270.04 L331.95,270.21 L332.42,270.39 L332.9,270.56 L333.37,270.73 L333.84,270.91 L334.31,271.08 L334.79,271.25 L335.26,271.42 L335.73,271.6 L336.2,271.77 L336.68,271.94 L337.15,272.12 L337.62,272.29 L338.09,272.46 L338.57,272.64 L339.04,272.81 L339.51,272.98 L339.98,273.15 L340.45,273.33 L340.93,273.5 L341.4,273.67 L341.87,273.84 L342.34,274.02 L342.82,274.19 L343.29,274.36 L343.76,274.53 L344.23,274.7 L344.71,274.88 L345.18,275.05 L345.65,275.22 L346.12,275.39 L346.6,275.56 L347.07,275.73 L347.54,275.9 L348.01,276.07 L348.48,276.24 L348.96,276.41 L349.43,276.57 L349.9,276.74 L350.37,276.91 L350.85,277.08 L351.32,277.24 L351.79,277.41 L352.26,277.58 L352.74,277.74 L353.21,277.9 L353.68,278.07 L354.15,278.23 L354.63,278.39 L355.1,278.55 L355.57,278.72 L356.04,278.87 L356.51,279.03 L356.99,279.19 L357.46,279.34 L357.93,279.5 L358.4,279.65 L358.88,279.81 L359.35,279.96 L359.82,280.11 L360.29,280.27 L360.77,280.42 L361.24,280.57 L361.71,280.72 L362.18,280.88 L362.65,281.03 L363.13,281.18 L363.6,281.33 L364.07,281.48 L364.54,281.63 L365.02,281.78 L365.49,281.93 L365.96,282.08 L366.43,282.23 L366.91,282.38 L367.38,282.53 L367.85,282.68 L368.32,282.83 L368.8,282.97 L369.27,283.12 L369.74,283.27 L370.21,283.42 L370.68,283.56 L371.16,283.71 L371.63,283.86 L372.1,284 L372.57,284.15 L373.05,284.29 L373.52,284.44 L373.99,284.58 L374.46,284.73 L374.94,284.87 L375.41,285.02 L375.88,285.16 L376.35,285.3 L376.83,285.45 L377.3,285.59 L377.77,285.73 L378.24,285.87 L378.71,286.01 L379.19,286.16 L379.66,286.3 L380.13,286.44 L380.6,286.58 L381.08,286.72 L381.55,286.86 L382.02,287 L382.49,287.14 L382.97,287.28 L383.44,287.41 L383.91,287.55 L384.38,287.69 L384.86,287.83 L385.33,287.96 L385.8,288.1 L386.27,288.24 L386.74,288.37 L387.22,288.51 L387.69,288.64 L388.16,288.78 L388.63,288.91 L389.11,289.05 L389.58,289.18 L390.05,289.32 L390.52,289.45 L391,289.58 L391.47,289.71 L391.94,289.85 L392.41,289.98 L392.88,290.11 L393.36,290.24 L393.83,290.37 L394.3,290.5 L394.77,290.63 L395.25,290.76 L395.72,290.89 L396.19,291.02 L396.66,291.15 L397.14,291.27 L397.61,291.4 L398.08,291.53 L398.55,291.66 L399.03,291.78 L399.5,291.91 L399.97,292.03 L400.44,292.16 L400.91,292.28 L401.39,292.41 L401.86,292.53 L402.33,292.66 L402.8,292.78 L403.28,292.9 L403.75,293.03 L404.22,293.15 L404.69,293.27 L405.17,293.39 L405.64,293.51 L406.11,293.63 L406.58,293.75 L407.06,293.87 L407.53,293.99 L408,294.11 M172.3,255.66 L172.77,255.55 L173.24,255.44 L173.72,255.33 L174.19,255.22 L174.66,255.12 L175.13,255.02 L175.61,254.92 L176.08,254.82 L176.55,254.72 L177.02,254.63 L177.5,254.54 L177.97,254.45 L178.44,254.37 L178.91,254.28 L179.39,254.2 L179.86,254.12 L180.33,254.04 L180.8,253.97 L181.27,253.9 L181.75,253.83 L182.22,253.76 L182.69,253.69 L183.16,253.63 L183.64,253.57 L184.11,253.51 L184.58,253.45 L185.05,253.4 L185.53,253.34 L186,253.29 L186.47,253.24 L186.94,253.2 L187.42,253.16 L187.89,253.11 L188.36,253.08 L188.83,253.04 L189.3,253 L189.78,252.97 L190.25,252.94 L190.72,252.91 L191.19,252.89 L191.67,252.87 L192.14,252.84 L192.61,252.83 L193.08,252.81 L193.56,252.79 L194.03,252.78 L194.5,252.77 L194.97,252.76 L195.44,252.76 L195.92,252.75 L196.39,252.75 L196.86,252.75 L197.33,252.76 L197.81,252.76 L198.28,252.77 L198.75,252.78 L199.22,252.79 L199.7,252.8 L200.17,252.82 L200.64,252.83 L201.11,252.85 L201.59,252.88 L202.06,252.9 L202.53,252.92 L203,252.95 L203.47,252.98 L203.95,253.01 L204.42,253.05 L204.89,253.08 L205.36,253.12 L205.84,253.16 L206.31,253.2 L206.78,253.24 L207.25,253.29 L207.73,253.34 L208.2,253.38 L208.67,253.44 L209.14,253.49 L209.62,253.54 L210.09,253.6 L210.56,253.66 L211.03,253.72 L211.5,253.78 L211.98,253.84 L212.45,253.91 L212.92,253.98 L213.39,254.04 L213.87,254.11 L214.34,254.19 L214.81,254.26 L215.28,254.34 L215.76,254.41 L216.23,254.49 L216.7,254.57 L217.17,254.65 L217.65,254.74 L218.12,254.82 L218.59,254.91 L219.06,255 L219.53,255.09 L220.01,255.18 L220.48,255.27 L220.95,255.37 L221.42,255.46 L221.9,255.56 L222.37,255.66 L222.84,255.76 L223.31,255.86 L223.79,255.97 L224.26,256.07 L224.73,256.18 L225.2,256.28 L225.67,256.39 L226.15,256.5 L226.62,256.61 L227.09,256.73 L227.56,256.84 L228.04,256.96 L228.51,257.07 L228.98,257.19 L229.45,257.31 L229.93,257.43 L230.4,257.55 L230.87,257.67 L231.34,257.8 L231.82,257.92 L232.29,258.05 L232.76,258.17 L233.23,258.3 L233.7,258.43 L234.18,258.56 L234.65,258.69 L235.12,258.83 L235.59,258.96 L236.07,259.09 L236.54,259.23 L237.01,259.36 L237.48,259.5 L237.96,259.64 L238.43,259.78 L238.9,259.92 L239.37,260.06 L239.85,260.2 L240.32,260.34 L240.79,260.49 L241.26,260.63 L241.73,260.78 L242.21,260.92 L242.68,261.07 L243.15,261.22 L243.62,261.36 L244.1,261.51 L244.57,261.66 L245.04,261.81 L245.51,261.96 L245.99,262.12 L246.46,262.27 L246.93,262.42 L247.4,262.57 L247.88,262.73 L248.35,262.88 L248.82,263.04 L249.29,263.19 L249.76,263.35 L250.24,263.51 L250.71,263.67 L251.18,263.82 L251.65,263.98 L252.13,264.14 L252.6,264.3 L253.07,264.46 L253.54,264.62 L254.02,264.78 L254.49,264.94 L254.96,265.1 L255.43,265.27 L255.91,265.43 L256.38,265.59 L256.85,265.75 L257.32,265.92 L257.79,266.08 L258.27,266.25 L258.74,266.41 L259.21,266.57 L259.68,266.74 L260.16,266.9 L260.63,267.07 L261.1,267.23 L261.57,267.4 L262.05,267.57 L262.52,267.73 L262.99,267.9 L263.46,268.07 L263.93,268.23 L264.41,268.4 L264.88,268.57 L265.35,268.73 L265.82,268.9 L266.3,269.07 L266.77,269.23 L267.24,269.4 L267.71,269.57 L268.19,269.74 L268.66,269.9 L269.13,270.07 L269.6,270.24 L270.08,270.41 L270.55,270.57 L271.02,270.74 L271.49,270.91 L271.96,271.07 L272.44,271.24 L272.91,271.41 L273.38,271.58 L273.85,271.74 L274.33,271.91 L274.8,272.08 L275.27,272.24 L275.74,272.41 L276.22,272.58 L276.69,272.74 L277.16,272.91 L277.63,273.07 L278.11,273.24 L278.58,273.41 L279.05,273.57 L279.52,273.74 L279.99,273.9 L280.47,274.06 L280.94,274.23 L281.41,274.39 L281.88,274.56 L282.36,274.72 L282.83,274.88 L283.3,275.05 L283.77,275.21 L284.25,275.37 L284.72,275.53 L285.19,275.69 L285.66,275.86 L286.14,276.02 L286.61,276.18 L287.08,276.34 L287.55,276.5 L288.02,276.66 L288.5,276.82 L288.97,276.98 L289.44,277.14 L289.91,277.3 L290.39,277.46 L290.86,277.62 L291.33,277.78 L291.8,277.94 L292.28,278.1 L292.75,278.26 L293.22,278.42 L293.69,278.58 L294.16,278.74 L294.64,278.91 L295.11,279.07 L295.58,279.23 L296.05,279.39 L296.53,279.55 L297,279.72 L297.47,279.88 L297.94,280.04 L298.42,280.2 L298.89,280.37 L299.36,280.53 L299.83,280.69 L300.31,280.85 L300.78,281.02 L301.25,281.18 L301.72,281.34 L302.19,281.51 L302.67,281.67 L303.14,281.83 L303.61,282 L304.08,282.16 L304.56,282.32 L305.03,282.48 L305.5,282.65 L305.97,282.81 L306.45,282.97 L306.92,283.14 L307.39,283.3 L307.86,283.46 L308.34,283.62 L308.81,283.79 L309.28,283.95 L309.75,284.11 L310.22,284.27 L310.7,284.44 L311.17,284.6 L311.64,284.76 L312.11,284.92 L312.59,285.08 L313.06,285.24 L313.53,285.41 L314,285.57 L314.48,285.73 L314.95,285.89 L315.42,286.05 L315.89,286.21 L316.37,286.37 L316.84,286.53 L317.31,286.69 L317.78,286.85 L318.25,287.01 L318.73,287.17 L319.2,287.33 L319.67,287.49 L320.14,287.65 L320.62,287.8 L321.09,287.96 L321.56,288.12 L322.03,288.28 L322.51,288.43 L322.98,288.59 L323.45,288.75 L323.92,288.9 L324.39,289.06 L324.87,289.21 L325.34,289.37 L325.81,289.52 L326.28,289.68 L326.76,289.83 L327.23,289.98 L327.7,290.14 L328.17,290.29 L328.65,290.44 L329.12,290.6 L329.59,290.75 L330.06,290.9 L330.54,291.05 L331.01,291.2 L331.48,291.35 L331.95,291.5 L332.42,291.65 L332.9,291.79 L333.37,291.94 L333.84,292.09 L334.31,292.23 L334.79,292.38 L335.26,292.53 L335.73,292.67 L336.2,292.82 L336.68,292.96 L337.15,293.1 L337.62,293.24 L338.09,293.39 L338.57,293.53 L339.04,293.67 L339.51,293.81 L339.98,293.95 L340.45,294.09 L340.93,294.22 L341.4,294.36 L341.87,294.5 L342.34,294.63 L342.82,294.77 L343.29,294.9 L343.76,295.04 L344.23,295.17 L344.71,295.3 L345.18,295.43 L345.65,295.56 L346.12,295.69 L346.6,295.82 L347.07,295.95 L347.54,296.07 L348.01,296.2 L348.48,296.32 L348.96,296.44 L349.43,296.57 L349.9,296.69 L350.37,296.81 L350.85,296.93 L351.32,297.05 L351.79,297.16 L352.26,297.28 L352.74,297.39 L353.21,297.5 L353.68,297.62 L354.15,297.73 L354.63,297.83 L355.1,297.94 L355.57,298.05 L356.04,298.15 L356.51,298.25 L356.99,298.35 L357.46,298.44 L357.93,298.53 L358.4,298.62 L358.88,298.72 L359.35,298.81 L359.82,298.9 L360.29,298.99 L360.77,299.08 L361.24,299.17 L361.71,299.26 L362.18,299.35 L362.65,299.44 L363.13,299.53 L363.6,299.61 L364.07,299.7 L364.54,299.79 L365.02,299.87 L365.49,299.96 L365.96,300.05 L366.43,300.13 L366.91,300.22 L367.38,300.3 L367.85,300.39 L368.32,300.47 L368.8,300.55 L369.27,300.64 L369.74,300.72 L370.21,300.8 L370.68,300.88 L371.16,300.96 L371.63,301.04 L372.1,301.12 L372.57,301.2 L373.05,301.28 L373.52,301.36 L373.99,301.44 L374.46,301.52 L374.94,301.6 L375.41,301.68 L375.88,301.75 L376.35,301.83 L376.83,301.91 L377.3,301.98 L377.77,302.06 L378.24,302.13 L378.71,302.21 L379.19,302.28 L379.66,302.35 L380.13,302.43 L380.6,302.5 L381.08,302.57 L381.55,302.64 L382.02,302.71 L382.49,302.79 L382.97,302.86 L383.44,302.93 L383.91,303 L384.38,303.07 L384.86,303.13 L385.33,303.2 L385.8,303.27 L386.27,303.34 L386.74,303.41 L387.22,303.47 L387.69,303.54 L388.16,303.6 L388.63,303.67 L389.11,303.73 L389.58,303.8 L390.05,303.86 L390.52,303.93 L391,303.99 L391.47,304.05 L391.94,304.11 L392.41,304.18 L392.88,304.24 L393.36,304.3 L393.83,304.36 L394.3,304.42 L394.77,304.48 L395.25,304.54 L395.72,304.59 L396.19,304.65 L396.66,304.71 L397.14,304.77 L397.61,304.82 L398.08,304.88 L398.55,304.94 L399.03,304.99 L399.5,305.05 L399.97,305.1 L400.44,305.15 L400.91,305.21 L401.39,305.26 L401.86,305.31 L402.33,305.37 L402.8,305.42 L403.28,305.47 L403.75,305.52 L404.22,305.57 L404.69,305.62 L405.17,305.67 L405.64,305.72 L406.11,305.77 L406.58,305.81 L407.06,305.86 L407.53,305.91 L408,305.96 M172.3,257.36 L172.77,257.33 L173.24,257.31 L173.72,257.29 L174.19,257.27 L174.66,257.25 L175.13,257.24 L175.61,257.23 L176.08,257.22 L176.55,257.22 L177.02,257.21 L177.5,257.21 L177.97,257.21 L178.44,257.22 L178.91,257.23 L179.39,257.23 L179.86,257.25 L180.33,257.26 L180.8,257.28 L181.27,257.3 L181.75,257.32 L182.22,257.34 L182.69,257.37 L183.16,257.4 L183.64,257.43 L184.11,257.46 L184.58,257.5 L185.05,257.53 L185.53,257.57 L186,257.62 L186.47,257.66 L186.94,257.71 L187.42,257.76 L187.89,257.81 L188.36,257.86 L188.83,257.92 L189.3,257.97 L189.78,258.03 L190.25,258.1 L190.72,258.16 L191.19,258.23 L191.67,258.3 L192.14,258.37 L192.61,258.44 L193.08,258.51 L193.56,258.59 L194.03,258.67 L194.5,258.75 L194.97,258.83 L195.44,258.91 L195.92,259 L196.39,259.09 L196.86,259.18 L197.33,259.27 L197.81,259.36 L198.28,259.46 L198.75,259.55 L199.22,259.65 L199.7,259.75 L200.17,259.86 L200.64,259.96 L201.11,260.07 L201.59,260.17 L202.06,260.28 L202.53,260.39 L203,260.51 L203.47,260.62 L203.95,260.74 L204.42,260.85 L204.89,260.97 L205.36,261.09 L205.84,261.22 L206.31,261.34 L206.78,261.46 L207.25,261.59 L207.73,261.72 L208.2,261.85 L208.67,261.98 L209.14,262.11 L209.62,262.24 L210.09,262.38 L210.56,262.51 L211.03,262.65 L211.5,262.79 L211.98,262.93 L212.45,263.07 L212.92,263.21 L213.39,263.36 L213.87,263.5 L214.34,263.65 L214.81,263.8 L215.28,263.94 L215.76,264.09 L216.23,264.24 L216.7,264.4 L217.17,264.55 L217.65,264.7 L218.12,264.86 L218.59,265.01 L219.06,265.17 L219.53,265.33 L220.01,265.49 L220.48,265.65 L220.95,265.81 L221.42,265.97 L221.9,266.13 L222.37,266.3 L222.84,266.46 L223.31,266.63 L223.79,266.79 L224.26,266.96 L224.73,267.13 L225.2,267.29 L225.67,267.46 L226.15,267.63 L226.62,267.8 L227.09,267.97 L227.56,268.15 L228.04,268.32 L228.51,268.49 L228.98,268.67 L229.45,268.84 L229.93,269.01 L230.4,269.19 L230.87,269.37 L231.34,269.54 L231.82,269.72 L232.29,269.9 L232.76,270.08 L233.23,270.25 L233.7,270.43 L234.18,270.61 L234.65,270.79 L235.12,270.97 L235.59,271.15 L236.07,271.34 L236.54,271.52 L237.01,271.7 L237.48,271.88 L237.96,272.06 L238.43,272.25 L238.9,272.43 L239.37,272.61 L239.85,272.8 L240.32,272.98 L240.79,273.17 L241.26,273.35 L241.73,273.54 L242.21,273.72 L242.68,273.91 L243.15,274.09 L243.62,274.28 L244.1,274.46 L244.57,274.65 L245.04,274.83 L245.51,275.02 L245.99,275.21 L246.46,275.39 L246.93,275.58 L247.4,275.76 L247.88,275.95 L248.35,276.14 L248.82,276.32 L249.29,276.51 L249.76,276.69 L250.24,276.88 L250.71,277.07 L251.18,277.25 L251.65,277.44 L252.13,277.63 L252.6,277.81 L253.07,278 L253.54,278.18 L254.02,278.37 L254.49,278.55 L254.96,278.74 L255.43,278.93 L255.91,279.11 L256.38,279.3 L256.85,279.48 L257.32,279.66 L257.79,279.85 L258.27,280.03 L258.74,280.22 L259.21,280.4 L259.68,280.58 L260.16,280.77 L260.63,280.95 L261.1,281.13 L261.57,281.32 L262.05,281.5 L262.52,281.68 L262.99,281.86 L263.46,282.04 L263.93,282.22 L264.41,282.4 L264.88,282.58 L265.35,282.76 L265.82,282.94 L266.3,283.12 L266.77,283.3 L267.24,283.48 L267.71,283.66 L268.19,283.83 L268.66,284.01 L269.13,284.19 L269.6,284.37 L270.08,284.54 L270.55,284.72 L271.02,284.89 L271.49,285.07 L271.96,285.24 L272.44,285.41 L272.91,285.59 L273.38,285.76 L273.85,285.93 L274.33,286.1 L274.8,286.28 L275.27,286.45 L275.74,286.62 L276.22,286.79 L276.69,286.96 L277.16,287.12 L277.63,287.29 L278.11,287.46 L278.58,287.63 L279.05,287.79 L279.52,287.96 L279.99,288.12 L280.47,288.29 L280.94,288.45 L281.41,288.62 L281.88,288.78 L282.36,288.94 L282.83,289.1 L283.3,289.27 L283.77,289.43 L284.25,289.59 L284.72,289.75 L285.19,289.91 L285.66,290.06 L286.14,290.22 L286.61,290.38 L287.08,290.53 L287.55,290.69 L288.02,290.84 L288.5,291 L288.97,291.15 L289.44,291.31 L289.91,291.46 L290.39,291.62 L290.86,291.77 L291.33,291.92 L291.8,292.07 L292.28,292.23 L292.75,292.38 L293.22,292.53 L293.69,292.68 L294.16,292.83 L294.64,292.98 L295.11,293.13 L295.58,293.28 L296.05,293.43 L296.53,293.58 L297,293.73 L297.47,293.88 L297.94,294.03 L298.42,294.18 L298.89,294.32 L299.36,294.47 L299.83,294.62 L300.31,294.76 L300.78,294.91 L301.25,295.06 L301.72,295.2 L302.19,295.35 L302.67,295.49 L303.14,295.63 L303.61,295.78 L304.08,295.92 L304.56,296.06 L305.03,296.2 L305.5,296.35 L305.97,296.49 L306.45,296.63 L306.92,296.77 L307.39,296.91 L307.86,297.05 L308.34,297.18 L308.81,297.32 L309.28,297.46 L309.75,297.6 L310.22,297.73 L310.7,297.87 L311.17,298 L311.64,298.14 L312.11,298.27 L312.59,298.41 L313.06,298.54 L313.53,298.67 L314,298.8 L314.48,298.94 L314.95,299.07 L315.42,299.2 L315.89,299.33 L316.37,299.46 L316.84,299.58 L317.31,299.71 L317.78,299.84 L318.25,299.96 L318.73,300.09 L319.2,300.22 L319.67,300.34 L320.14,300.46 L320.62,300.59 L321.09,300.71 L321.56,300.83 L322.03,300.95 L322.51,301.07 L322.98,301.19 L323.45,301.31 L323.92,301.43 L324.39,301.55 L324.87,301.66 L325.34,301.78 L325.81,301.89 L326.28,302.01 L326.76,302.12 L327.23,302.23 L327.7,302.35 L328.17,302.46 L328.65,302.57 L329.12,302.68 L329.59,302.78 L330.06,302.89 L330.54,303 L331.01,303.11 L331.48,303.21 L331.95,303.32 L332.42,303.42 L332.9,303.52 L333.37,303.62 L333.84,303.73 L334.31,303.83 L334.79,303.92 L335.26,304.02 L335.73,304.12 L336.2,304.22 L336.68,304.31 L337.15,304.41 L337.62,304.5 L338.09,304.59 L338.57,304.68 L339.04,304.77 L339.51,304.86 L339.98,304.95 L340.45,305.04 L340.93,305.13 L341.4,305.21 L341.87,305.29 L342.34,305.38 L342.82,305.46 L343.29,305.54 L343.76,305.62 L344.23,305.7 L344.71,305.78 L345.18,305.85 L345.65,305.93 L346.12,306 L346.6,306.07 L347.07,306.15 L347.54,306.22 L348.01,306.28 L348.48,306.35 L348.96,306.42 L349.43,306.48 L349.9,306.55 L350.37,306.61 L350.85,306.67 L351.32,306.73 L351.79,306.78 L352.26,306.84 L352.74,306.89 L353.21,306.95 L353.68,307 L354.15,307.04 L354.63,307.09 L355.1,307.14 L355.57,307.18 L356.04,307.22 L356.51,307.26 L356.99,307.29 L357.46,307.32 L357.93,307.34 L358.4,307.37 L358.88,307.4 L359.35,307.42 L359.82,307.45 L360.29,307.48 L360.77,307.5 L361.24,307.53 L361.71,307.55 L362.18,307.57 L362.65,307.6 L363.13,307.62 L363.6,307.64 L364.07,307.66 L364.54,307.69 M172.3,261.06 L172.77,261.15 L173.24,261.25 L173.72,261.33 L174.19,261.42 L174.66,261.5 L175.13,261.59 L175.61,261.66 L176.08,261.74 L176.55,261.81 L177.02,261.88 L177.5,261.95 L177.97,262.02 L178.44,262.08 L178.91,262.14 L179.39,262.2 L179.86,262.25 L180.33,262.3 L180.8,262.35 L181.27,262.4 L181.75,262.44 L182.22,262.48 L182.69,262.52 L183.16,262.55 L183.64,262.59 L184.11,262.62 L184.58,262.64 L185.05,262.67 L185.53,262.69 L186,262.71 L186.47,262.73 L186.94,262.74 L187.42,262.75 L187.89,262.76 L188.36,262.77 L188.83,262.77 L189.3,262.77 L189.78,262.77 L190.25,262.77 L190.72,262.76 L191.19,262.75 L191.67,262.74 L192.14,262.72 L192.61,262.71 L193.08,262.69 L193.56,262.66 L194.03,262.64 L194.5,262.61 L194.97,262.58 L195.44,262.55 L195.92,262.52 L196.39,262.48 L196.86,262.44 L197.33,262.4 L197.81,262.35 L198.28,262.31 L198.75,262.26 L199.22,262.2 L199.7,262.15 L200.17,262.09 L200.64,262.04 L201.11,261.98 L201.59,261.91 L202.06,261.85 L202.53,261.78 L203,261.71 L203.47,261.64 L203.95,261.56 L204.42,261.49 L204.89,261.41 L205.36,261.33 L205.84,261.24 L206.31,261.16 L206.78,261.07 L207.25,260.98 L207.73,260.89 L208.2,260.79 L208.67,260.7 L209.14,260.6 L209.62,260.5 L210.09,260.4 L210.56,260.3 L211.03,260.19 L211.5,260.08 L211.98,259.97 L212.45,259.86 L212.92,259.75 L213.39,259.63 L213.87,259.52 L214.34,259.4 L214.81,259.28 L215.28,259.16 L215.76,259.03 L216.23,258.91 L216.7,258.78 L217.17,258.65 L217.65,258.52 L218.12,258.39 L218.59,258.25 L219.06,258.12 L219.53,257.98 L220.01,257.84 L220.48,257.7 L220.95,257.56 L221.42,257.42 L221.9,257.27 L222.37,257.13 L222.84,256.98 L223.31,256.83 L223.79,256.68 L224.26,256.53 L224.73,256.38 L225.2,256.22 L225.67,256.07 L226.15,255.91 L226.62,255.75 L227.09,255.59 L227.56,255.43 L228.04,255.27 L228.51,255.11 L228.98,254.94 L229.45,254.78 L229.93,254.61 L230.4,254.44 L230.87,254.27 L231.34,254.1 L231.82,253.93 L232.29,253.76 L232.76,253.59 L233.23,253.42 L233.7,253.24 L234.18,253.07 L234.65,252.89 L235.12,252.71 L235.59,252.53 L236.07,252.35 L236.54,252.17 L237.01,251.99 L237.48,251.81 L237.96,251.63 L238.43,251.45 L238.9,251.26 L239.37,251.08 L239.85,250.89 L240.32,250.71 L240.79,250.52 L241.26,250.33 L241.73,250.15 L242.21,249.96 L242.68,249.77 L243.15,249.58 L243.62,249.39 L244.1,249.2 L244.57,249.01 L245.04,248.81 L245.51,248.62 L245.99,248.43 L246.46,248.24 L246.93,248.04 L247.4,247.85 L247.88,247.65 L248.35,247.46 L248.82,247.26 L249.29,247.07 L249.76,246.87 L250.24,246.68 L250.71,246.48 L251.18,246.28 L251.65,246.09 L252.13,245.89 L252.6,245.69 L253.07,245.5 L253.54,245.3 L254.02,245.1 L254.49,244.9 L254.96,244.7 L255.43,244.51 L255.91,244.31 L256.38,244.11 L256.85,243.91 L257.32,243.71 L257.79,243.51 L258.27,243.31 L258.74,243.12 L259.21,242.92 L259.68,242.72 L260.16,242.52 L260.63,242.32 L261.1,242.12 L261.57,241.92 L262.05,241.73 L262.52,241.53 L262.99,241.33 L263.46,241.13 L263.93,240.93 L264.41,240.74 L264.88,240.54 L265.35,240.34 L265.82,240.14 L266.3,239.95 L266.77,239.75 L267.24,239.55 L267.71,239.36 L268.19,239.16 L268.66,238.96 L269.13,238.77 L269.6,238.57 L270.08,238.38 L270.55,238.18 L271.02,237.99 L271.49,237.79 L271.96,237.6 L272.44,237.41 L272.91,237.21 L273.38,237.02 L273.85,236.83 L274.33,236.64 L274.8,236.45 L275.27,236.25 L275.74,236.06 L276.22,235.87 L276.69,235.68 L277.16,235.49 L277.63,235.31 L278.11,235.12 L278.58,234.93 L279.05,234.74 L279.52,234.55 L279.99,234.37 L280.47,234.18 L280.94,234 L281.41,233.81 L281.88,233.63 L282.36,233.44 L282.83,233.26 L283.3,233.08 L283.77,232.9 L284.25,232.71 L284.72,232.53 L285.19,232.35 L285.66,232.17 L286.14,231.99 L286.61,231.81 L287.08,231.64 L287.55,231.46 L288.02,231.28 L288.5,231.11 L288.97,230.93 L289.44,230.75 L289.91,230.58 L290.39,230.4 L290.86,230.23 L291.33,230.05 L291.8,229.88 L292.28,229.7 L292.75,229.53 L293.22,229.35 L293.69,229.18 L294.16,229 L294.64,228.83 L295.11,228.65 L295.58,228.48 L296.05,228.3 L296.53,228.13 L297,227.96 L297.47,227.78 L297.94,227.61 L298.42,227.44 L298.89,227.27 L299.36,227.09 L299.83,226.92 L300.31,226.75 L300.78,226.58 L301.25,226.41 L301.72,226.24 L302.19,226.07 L302.67,225.9 L303.14,225.73 L303.61,225.56 L304.08,225.39 L304.56,225.22 L305.03,225.05 L305.5,224.88 L305.97,224.71 L306.45,224.55 L306.92,224.38 L307.39,224.21 L307.86,224.05 L308.34,223.88 L308.81,223.72 L309.28,223.55 L309.75,223.39 L310.22,223.23 L310.7,223.06 L311.17,222.9 L311.64,222.74 L312.11,222.58 L312.59,222.41 L313.06,222.25 L313.53,222.09 L314,221.93 L314.48,221.77 L314.95,221.62 L315.42,221.46 L315.89,221.3 L316.37,221.14 L316.84,220.99 L317.31,220.83 L317.78,220.68 L318.25,220.52 L318.73,220.37 L319.2,220.21 L319.67,220.06 L320.14,219.91 L320.62,219.76 L321.09,219.61 L321.56,219.46 L322.03,219.31 L322.51,219.16 L322.98,219.01 L323.45,218.86 L323.92,218.72 L324.39,218.57 L324.87,218.43 L325.34,218.28 L325.81,218.14 L326.28,218 L326.76,217.86 L327.23,217.71 L327.7,217.57 L328.17,217.43 L328.65,217.3 L329.12,217.16 L329.59,217.02 L330.06,216.88 L330.54,216.75 L331.01,216.62 L331.48,216.48 L331.95,216.35 L332.42,216.22 L332.9,216.09 L333.37,215.96 L333.84,215.83 L334.31,215.7 L334.79,215.57 L335.26,215.45 L335.73,215.32 L336.2,215.2 L336.68,215.07 L337.15,214.95 L337.62,214.83 L338.09,214.71 L338.57,214.59 L339.04,214.47 L339.51,214.36 L339.98,214.24 L340.45,214.13 L340.93,214.01 L341.4,213.9 L341.87,213.79 L342.34,213.68 L342.82,213.57 L343.29,213.46 L343.76,213.36 L344.23,213.25 L344.71,213.15 L345.18,213.04 L345.65,212.94 L346.12,212.84 L346.6,212.74 L347.07,212.65 L347.54,212.55 L348.01,212.46 L348.48,212.36 L348.96,212.27 L349.43,212.18 L349.9,212.09 L350.37,212 L350.85,211.92 L351.32,211.83 L351.79,211.75 L352.26,211.67 L352.74,211.59 L353.21,211.51 L353.68,211.44 L354.15,211.37 L354.63,211.3 L355.1,211.23 L355.57,211.16 L356.04,211.1 L356.51,211.03 L356.99,210.98 L357.46,210.92 L357.93,210.87 L358.4,210.82 L358.88,210.77 L359.35,210.72 L359.82,210.67 L360.29,210.63 L360.77,210.58 L361.24,210.53 L361.71,210.49 L362.18,210.44 L362.65,210.39 L363.13,210.35 L363.6,210.31 L364.07,210.26 L364.54,210.22 L365.02,210.18 L365.49,210.14 L365.96,210.1 L366.43,210.06 L366.91,210.02 L367.38,209.98 L367.85,209.94 L368.32,209.9 L368.8,209.86 L369.27,209.83 L369.74,209.79 L370.21,209.76 L370.68,209.72 L371.16,209.69 L371.63,209.66 L372.1,209.62 L372.57,209.59 L373.05,209.56 L373.52,209.53 L373.99,209.5 L374.46,209.47 L374.94,209.44 L375.41,209.41 L375.88,209.38 L376.35,209.36 L376.83,209.33 L377.3,209.31 M213.87,276.97 L214.34,277.08 L214.81,277.19 L215.28,277.3 L215.76,277.4 L216.23,277.5 L216.7,277.6 L217.17,277.7 L217.65,277.79 L218.12,277.88 L218.59,277.97 L219.06,278.06 L219.53,278.14 L220.01,278.22 L220.48,278.3 L220.95,278.38 L221.42,278.45 L221.9,278.52 L222.37,278.59 L222.84,278.65 L223.31,278.72 L223.79,278.78 L224.26,278.84 L224.73,278.89 L225.2,278.95 L225.67,279 L226.15,279.05 L226.62,279.09 L227.09,279.14 L227.56,279.18 L228.04,279.21 L228.51,279.25 L228.98,279.28 L229.45,279.32 L229.93,279.34 L230.4,279.37 L230.87,279.39 L231.34,279.42 L231.82,279.44 L232.29,279.45 L232.76,279.47 L233.23,279.48 L233.7,279.49 L234.18,279.5 L234.65,279.5 L235.12,279.5 L235.59,279.5 L236.07,279.5 L236.54,279.5 L237.01,279.49 L237.48,279.48 L237.96,279.47 L238.43,279.46 L238.9,279.45 L239.37,279.43 L239.85,279.41 L240.32,279.39 L240.79,279.37 L241.26,279.34 L241.73,279.32 L242.21,279.29 L242.68,279.26 L243.15,279.22 L243.62,279.19 L244.1,279.15 L244.57,279.11 L245.04,279.07 L245.51,279.03 L245.99,278.99 L246.46,278.94 L246.93,278.89 L247.4,278.85 L247.88,278.79 L248.35,278.74 L248.82,278.69 L249.29,278.63 L249.76,278.57 L250.24,278.52 L250.71,278.46 L251.18,278.39 L251.65,278.33 L252.13,278.26 L252.6,278.2 L253.07,278.13 L253.54,278.06 L254.02,277.99 L254.49,277.92 L254.96,277.85 L255.43,277.77 L255.91,277.69 L256.38,277.62 L256.85,277.54 L257.32,277.46 L257.79,277.38 L258.27,277.3 L258.74,277.21 L259.21,277.13 L259.68,277.05 L260.16,276.96 L260.63,276.87 L261.1,276.78 L261.57,276.69 L262.05,276.6 L262.52,276.51 L262.99,276.42 L263.46,276.33 L263.93,276.24 L264.41,276.14 L264.88,276.05 L265.35,275.95 L265.82,275.85 L266.3,275.76 L266.77,275.66 L267.24,275.56 L267.71,275.46 L268.19,275.36 L268.66,275.26 L269.13,275.16 L269.6,275.06 L270.08,274.96 L270.55,274.86 L271.02,274.75 L271.49,274.65 L271.96,274.55 L272.44,274.44 L272.91,274.34 L273.38,274.23 L273.85,274.13 L274.33,274.02 L274.8,273.92 L275.27,273.81 L275.74,273.71 L276.22,273.6 L276.69,273.5 L277.16,273.39 L277.63,273.28 L278.11,273.18 L278.58,273.07 L279.05,272.97 L279.52,272.86 L279.99,272.75 L280.47,272.65 L280.94,272.54 L281.41,272.43 L281.88,272.33 L282.36,272.22 L282.83,272.12 L283.3,272.01 L283.77,271.9 L284.25,271.8 L284.72,271.69 L285.19,271.59 L285.66,271.49 L286.14,271.38 L286.61,271.28 L287.08,271.17 L287.55,271.07 L288.02,270.97 L288.5,270.87 L288.97,270.76 L289.44,270.66 L289.91,270.55 L290.39,270.44 L290.86,270.34 L291.33,270.23 L291.8,270.12 L292.28,270.01 L292.75,269.89 L293.22,269.78 L293.69,269.67 L294.16,269.55 L294.64,269.44 L295.11,269.32 L295.58,269.2 L296.05,269.08 L296.53,268.97 L297,268.85 L297.47,268.72 L297.94,268.6 L298.42,268.48 L298.89,268.36 L299.36,268.23 L299.83,268.1 L300.31,267.98 L300.78,267.85 L301.25,267.72 L301.72,267.59 L302.19,267.46 L302.67,267.33 L303.14,267.2 L303.61,267.07 L304.08,266.94 L304.56,266.8 L305.03,266.67 L305.5,266.53 L305.97,266.39 L306.45,266.26 L306.92,266.12 L307.39,265.98 L307.86,265.84 L308.34,265.7 L308.81,265.56 L309.28,265.42 L309.75,265.27 L310.22,265.13 L310.7,264.99 L311.17,264.84 L311.64,264.69 L312.11,264.55 L312.59,264.4 L313.06,264.25 L313.53,264.1 L314,263.95 L314.48,263.8 L314.95,263.65 L315.42,263.5 L315.89,263.35 L316.37,263.2 L316.84,263.04 L317.31,262.89 L317.78,262.73 L318.25,262.58 L318.73,262.42 L319.2,262.27 L319.67,262.11 L320.14,261.95 L320.62,261.79 L321.09,261.63 L321.56,261.47 L322.03,261.31 L322.51,261.15 L322.98,260.99 L323.45,260.83 L323.92,260.67 L324.39,260.5 L324.87,260.34 L325.34,260.18 L325.81,260.01 L326.28,259.85 L326.76,259.68 L327.23,259.51 L327.7,259.35 L328.17,259.18 L328.65,259.01 L329.12,258.84 L329.59,258.67 L330.06,258.51 L330.54,258.34 L331.01,258.17 L331.48,258 L331.95,257.83 L332.42,257.65 L332.9,257.48 L333.37,257.31 L333.84,257.14 L334.31,256.97 L334.79,256.79 L335.26,256.62 L335.73,256.45 L336.2,256.27 L336.68,256.1 L337.15,255.92 L337.62,255.75 L338.09,255.57 L338.57,255.4 L339.04,255.22 L339.51,255.05 L339.98,254.87 L340.45,254.69 L340.93,254.52 L341.4,254.34 L341.87,254.16 L342.34,253.98 L342.82,253.81 L343.29,253.63 L343.76,253.45 L344.23,253.27 L344.71,253.09 L345.18,252.92 L345.65,252.74 L346.12,252.56 L346.6,252.38 L347.07,252.2 L347.54,252.02 L348.01,251.85 L348.48,251.67 L348.96,251.49 L349.43,251.31 L349.9,251.13 L350.37,250.95 L350.85,250.77 L351.32,250.6 L351.79,250.42 L352.26,250.24 L352.74,250.06 L353.21,249.88 L353.68,249.71 L354.15,249.53 L354.63,249.35 L355.1,249.17 L355.57,249 L356.04,248.82 L356.51,248.65 L356.99,248.47 L357.46,248.3 L357.93,248.12 L358.4,247.95 L358.88,247.78 L359.35,247.61 L359.82,247.43 L360.29,247.26 L360.77,247.09 L361.24,246.91 L361.71,246.74 L362.18,246.57 L362.65,246.4 L363.13,246.23 L363.6,246.05 L364.07,245.88 L364.54,245.71 L365.02,245.54 L365.49,245.37 L365.96,245.2 L366.43,245.03 L366.91,244.86 L367.38,244.69 L367.85,244.52 L368.32,244.35 L368.8,244.18 L369.27,244.01 L369.74,243.84 L370.21,243.67 L370.68,243.5 L371.16,243.33 L371.63,243.16 L372.1,242.99 L372.57,242.83 L373.05,242.66 L373.52,242.49 L373.99,242.32 L374.46,242.15 L374.94,241.99 L375.41,241.82 L375.88,241.65 L376.35,241.49 L376.83,241.32 L377.3,241.15 L377.77,240.99 L378.24,240.82 L378.71,240.66 L379.19,240.49 L379.66,240.33 L380.13,240.16 L380.6,240 L381.08,239.83 L381.55,239.67 L382.02,239.5 L382.49,239.34 L382.97,239.18 L383.44,239.01 L383.91,238.85 L384.38,238.69 L384.86,238.53 L385.33,238.36 L385.8,238.2 L386.27,238.04 L386.74,237.88 L387.22,237.72 L387.69,237.56 L388.16,237.4 L388.63,237.24 L389.11,237.08 L389.58,236.92 L390.05,236.76 L390.52,236.6 L391,236.44 L391.47,236.28 L391.94,236.12 L392.41,235.96 L392.88,235.8 L393.36,235.65 L393.83,235.49 L394.3,235.33 L394.77,235.18 L395.25,235.02 L395.72,234.86 L396.19,234.71 L396.66,234.55 L397.14,234.4 L397.61,234.24 L398.08,234.09 L398.55,233.93 L399.03,233.78 L399.5,233.63 L399.97,233.47 L400.44,233.32 L400.91,233.17 L401.39,233.01 L401.86,232.86 L402.33,232.71 L402.8,232.56 L403.28,232.41 L403.75,232.26 L404.22,232.11 L404.69,231.96 L405.17,231.81 L405.64,231.66 L406.11,231.51 L406.58,231.36 L407.06,231.21 L407.53,231.06 L408,230.92 M297.47,299.92 L297.94,300 L298.42,300.07 L298.89,300.14 L299.36,300.2 L299.83,300.27 L300.31,300.34 L300.78,300.4 L301.25,300.47 L301.72,300.53 L302.19,300.59 L302.67,300.65 L303.14,300.71 L303.61,300.77 L304.08,300.83 L304.56,300.88 L305.03,300.94 L305.5,300.99 L305.97,301.05 L306.45,301.1 L306.92,301.15 L307.39,301.2 L307.86,301.25 L308.34,301.3 L308.81,301.34 L309.28,301.39 L309.75,301.43 L310.22,301.47 L310.7,301.52 L311.17,301.56 L311.64,301.6 L312.11,301.64 L312.59,301.67 L313.06,301.71 L313.53,301.74 L314,301.78 L314.48,301.81 L314.95,301.84 L315.42,301.87 L315.89,301.9 L316.37,301.93 L316.84,301.95 L317.31,301.98 L317.78,302 L318.25,302.03 L318.73,302.05 L319.2,302.07 L319.67,302.09 L320.14,302.11 L320.62,302.12 L321.09,302.14 L321.56,302.16 L322.03,302.17 L322.51,302.18 L322.98,302.19 L323.45,302.2 L323.92,302.21 L324.39,302.22 L324.87,302.22 L325.34,302.23 L325.81,302.23 L326.28,302.23 L326.76,302.24 L327.23,302.24 L327.7,302.23 L328.17,302.23 L328.65,302.23 L329.12,302.22 L329.59,302.22 L330.06,302.21 L330.54,302.2 L331.01,302.19 L331.48,302.18 L331.95,302.16 L332.42,302.15 L332.9,302.13 L333.37,302.12 L333.84,302.1 L334.31,302.08 L334.79,302.06 L335.26,302.04 L335.73,302.01 L336.2,301.99 L336.68,301.96 L337.15,301.94 L337.62,301.91 L338.09,301.88 L338.57,301.85 L339.04,301.82 L339.51,301.78 L339.98,301.75 L340.45,301.71 L340.93,301.67 L341.4,301.63 L341.87,301.59 L342.34,301.55 L342.82,301.51 L343.29,301.46 L343.76,301.42 L344.23,301.37 L344.71,301.32 L345.18,301.27 L345.65,301.22 L346.12,301.17 L346.6,301.11 L347.07,301.06 L347.54,301 L348.01,300.94 L348.48,300.88 L348.96,300.82 L349.43,300.75 L349.9,300.69 L350.37,300.62 L350.85,300.55 L351.32,300.48 L351.79,300.41 L352.26,300.34 L352.74,300.27 L353.21,300.19 L353.68,300.11 L354.15,300.03 L354.63,299.95 L355.1,299.86 L355.57,299.78 L356.04,299.69 L356.51,299.6 L356.99,299.51 L357.46,299.41 L357.93,299.31 L358.4,299.21 L358.88,299.11 L359.35,299.01 L359.82,298.91 L360.29,298.8 L360.77,298.7 L361.24,298.6 L361.71,298.49 L362.18,298.39 L362.65,298.29 L363.13,298.18 L363.6,298.08 L364.07,297.97 L364.54,297.86 L365.02,297.76 L365.49,297.65 L365.96,297.54 L366.43,297.43 L366.91,297.33 L367.38,297.22 L367.85,297.11 L368.32,297 L368.8,296.89 L369.27,296.78 L369.74,296.66 L370.21,296.55 L370.68,296.44 L371.16,296.33 L371.63,296.21 L372.1,296.1 L372.57,295.98 L373.05,295.87 L373.52,295.75 L373.99,295.64 L374.46,295.52 L374.94,295.41 L375.41,295.29 L375.88,295.17 L376.35,295.05 L376.83,294.94 L377.3,294.82 L377.77,294.7 L378.24,294.58 L378.71,294.46 L379.19,294.34 L379.66,294.22 L380.13,294.09 L380.6,293.97 L381.08,293.85 L381.55,293.73 L382.02,293.6 L382.49,293.48 L382.97,293.36 L383.44,293.23 L383.91,293.11 L384.38,292.98 L384.86,292.85 L385.33,292.73 L385.8,292.6 L386.27,292.47 L386.74,292.35 L387.22,292.22 L387.69,292.09 L388.16,291.96 L388.63,291.83 L389.11,291.7 L389.58,291.57 L390.05,291.44 L390.52,291.31 L391,291.18 L391.47,291.05 L391.94,290.92 L392.41,290.78 L392.88,290.65 L393.36,290.52 L393.83,290.38 L394.3,290.25 L394.77,290.12 L395.25,289.98 L395.72,289.85 L396.19,289.71 L396.66,289.57 L397.14,289.44 L397.61,289.3 L398.08,289.16 L398.55,289.03 L399.03,288.89 L399.5,288.75 L399.97,288.61 L400.44,288.47 L400.91,288.33 L401.39,288.19 L401.86,288.05 L402.33,287.91 L402.8,287.77 L403.28,287.63 L403.75,287.49 L404.22,287.35 L404.69,287.2 L405.17,287.06 L405.64,286.92 L406.11,286.78 L406.58,286.63 L407.06,286.49 L407.53,286.34 L408,286.2" fill="none" stroke="#1a1a1a" stroke-width="1.5"/>
<path d="M408,219 L426,219 L426,221 C426,227 429,228.9 436,228.9 L807,228.9 M807,289 L436,289 C429,289 426,290.5 426,296.5 L426,298.5 L408,298.5" fill="none" stroke="#1a1a1a" stroke-width="3.5" stroke-linejoin="miter"/>
<path d="M805.5,228.9 L813.8,236.5 L813.8,281 L805.5,289" fill="none" stroke="#1a1a1a" stroke-width="2.9" stroke-linejoin="miter"/>
<line x1="805.7" y1="227.5" x2="805.7" y2="290.5" stroke="#1a1a1a" stroke-width="3.3"/>
<line x1="426" y1="219" x2="426" y2="298.5" stroke="#1a1a1a" stroke-width="3.3"/>
<path d="M172,253.41 L173.98,252.64 L175.97,251.87 L177.95,251.11 L179.93,250.36 L181.92,249.61 L183.9,248.86 L185.88,248.12 L187.87,247.38 L189.85,246.65 L191.83,245.93 L193.82,245.21 L195.8,244.49 L197.78,243.78 L199.76,243.07 L201.75,242.37 L203.73,241.67 L205.71,240.98 L207.7,240.3 L209.68,239.61 L211.66,238.94 L213.65,238.27 L215.63,237.6 L217.61,236.94 L219.6,236.29 L221.58,235.64 L223.56,235 L225.55,234.36 L227.53,233.72 L229.51,233.1 L231.5,232.47 L233.48,231.86 L235.46,231.25 L237.45,230.64 L239.43,230.04 L241.41,229.45 L243.39,228.86 L245.38,228.28 L247.36,227.7 L249.34,227.13 L251.33,226.57 L253.31,226.01 L255.29,225.46 L257.28,224.91 L259.26,224.37 L261.24,223.84 L263.23,223.31 L265.21,222.79 L267.19,222.27 L269.18,221.77 L271.16,221.26 L273.14,220.77 L275.13,220.28 L277.11,219.8 L279.09,219.32 L281.08,218.85 L283.06,218.39 L285.04,217.94 L287.03,217.49 L289.01,217.05 L290.99,216.62 L292.97,216.19 L294.96,215.77 L296.94,215.36 L298.92,214.96 L300.91,214.56 L302.89,214.18 L304.87,213.8 L306.86,213.42 L308.84,213.06 L310.82,212.71 L312.81,212.36 L314.79,212.02 L316.77,211.69 L318.76,211.38 L320.74,211.07 L322.72,210.76 L324.71,210.47 L326.69,210.19 L328.67,209.92 L330.66,209.66 L332.64,209.41 L334.62,209.18 L336.61,208.95 L338.59,208.73 L340.57,208.53 L342.55,208.35 L344.54,208.17 L346.52,208.01 L348.5,207.87 L350.49,207.74 L352.47,207.64 L354.45,207.56 L356.44,207.51 L358.42,207.5 L360.4,207.5 L362.39,207.5 L364.37,207.5 L366.35,207.5 L368.34,207.5 L370.32,207.5 L372.3,207.5 L374.29,207.5 L376.27,207.5 L378.25,207.5 L380.24,207.5 L382.22,207.5 L384.2,207.5 L386.18,207.5 L388.17,207.5 L390.15,207.5 L392.13,207.5 L394.12,207.5 L396.1,207.5 L398.08,207.5 L400.07,207.5 L402.05,207.5 L404.03,207.5 L406.02,207.5 L408,207.5 L408,309.5 L406.02,309.5 L404.03,309.5 L402.05,309.5 L400.07,309.5 L398.08,309.5 L396.1,309.5 L394.12,309.5 L392.13,309.5 L390.15,309.5 L388.17,309.5 L386.18,309.5 L384.2,309.5 L382.22,309.5 L380.24,309.5 L378.25,309.5 L376.27,309.5 L374.29,309.5 L372.3,309.5 L370.32,309.5 L368.34,309.5 L366.35,309.5 L364.37,309.5 L362.39,309.5 L360.4,309.5 L358.42,309.5 L356.44,309.49 L354.45,309.44 L352.47,309.36 L350.49,309.26 L348.5,309.13 L346.52,308.99 L344.54,308.83 L342.55,308.65 L340.57,308.47 L338.59,308.27 L336.61,308.05 L334.62,307.82 L332.64,307.59 L330.66,307.34 L328.67,307.08 L326.69,306.81 L324.71,306.53 L322.72,306.24 L320.74,305.93 L318.76,305.62 L316.77,305.31 L314.79,304.98 L312.81,304.64 L310.82,304.29 L308.84,303.94 L306.86,303.58 L304.87,303.2 L302.89,302.82 L300.91,302.44 L298.92,302.04 L296.94,301.64 L294.96,301.23 L292.97,300.81 L290.99,300.38 L289.01,299.95 L287.03,299.51 L285.04,299.06 L283.06,298.61 L281.08,298.15 L279.09,297.68 L277.11,297.2 L275.13,296.72 L273.14,296.23 L271.16,295.74 L269.18,295.23 L267.19,294.73 L265.21,294.21 L263.23,293.69 L261.24,293.16 L259.26,292.63 L257.28,292.09 L255.29,291.54 L253.31,290.99 L251.33,290.43 L249.34,289.87 L247.36,289.3 L245.38,288.72 L243.39,288.14 L241.41,287.55 L239.43,286.96 L237.45,286.36 L235.46,285.75 L233.48,285.14 L231.5,284.53 L229.51,283.9 L227.53,283.28 L225.55,282.64 L223.56,282 L221.58,281.36 L219.6,280.71 L217.61,280.06 L215.63,279.4 L213.65,278.73 L211.66,278.06 L209.68,277.39 L207.7,276.7 L205.71,276.02 L203.73,275.33 L201.75,274.63 L199.76,273.93 L197.78,273.22 L195.8,272.51 L193.82,271.79 L191.83,271.07 L189.85,270.35 L187.87,269.62 L185.88,268.88 L183.9,268.14 L181.92,267.39 L179.93,266.64 L177.95,265.89 L175.97,265.13 L173.98,264.36 L172,263.59 Z" fill="none" stroke="#1a1a1a" stroke-width="3.7" stroke-linejoin="round"/>
<!-- center line -->
<g stroke="#3a3a3a" stroke-width="1.2">
<line x1="153.6" y1="258.6" x2="246.9" y2="258.6"/>
<line x1="251.2" y1="258.6" x2="260.2" y2="258.6"/>
<line x1="265.5" y1="258.6" x2="830" y2="258.6" stroke-dasharray="37.9 4.3 9 4.45"/>
</g>
<text x="290" y="373.5" font-size="31" text-anchor="middle">LU</text>
<text x="492.7" y="431.3" font-size="31" text-anchor="middle">OAL</text>
<text transform="translate(102.7,257.1) rotate(-90)" font-size="31" text-anchor="middle">DC</text>
<text transform="translate(866.8,120.6) rotate(-90)" font-size="31" text-anchor="middle">DCON MS</text>
</svg>
</body></html>
